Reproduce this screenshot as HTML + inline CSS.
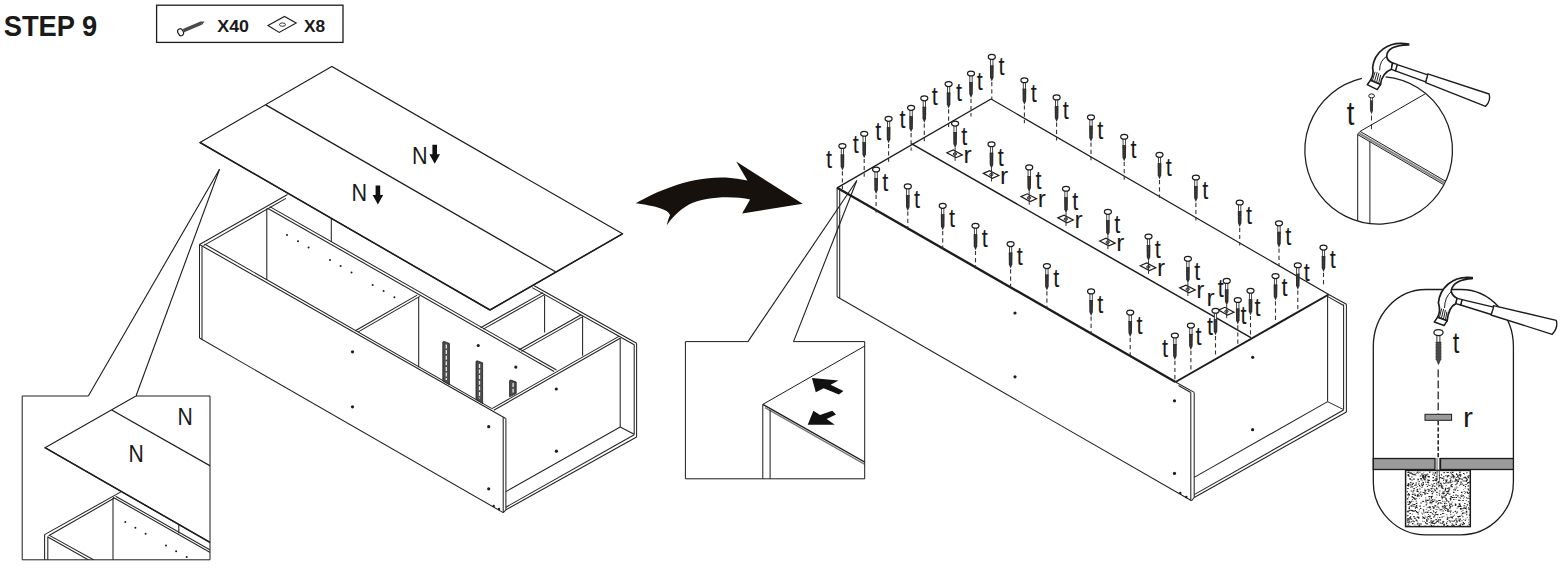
<!DOCTYPE html>
<html><head><meta charset="utf-8"><title>STEP 9</title>
<style>
html,body{margin:0;padding:0;background:#fff;}
body{width:1568px;height:570px;overflow:hidden;font-family:"Liberation Sans",sans-serif;}
svg{display:block;}
svg text{font-family:"Liberation Sans",sans-serif;}
</style></head><body>
<svg width="1568" height="570" viewBox="0 0 1568 570">
<rect width="1568" height="570" fill="#fff"/>
<text transform="translate(3.70 35.60) scale(0.942 1)" font-size="29" font-weight="bold" text-anchor="start" fill="#1a1a1a">STEP 9</text>
<rect x="156.6" y="5.2" width="186.4" height="37.2" fill="none" stroke="#1c1c1c" stroke-width="1.3"/>
<text transform="translate(217.30 32.25) scale(1.03 1)" font-size="17.3" font-weight="bold" text-anchor="start" fill="#1a1a1a">X40</text>
<text x="303.90" y="32.25" font-size="17.3" font-weight="bold" text-anchor="start" fill="#1a1a1a">X8</text>
<line x1="183.5" y1="30.7" x2="201.2" y2="23.1" stroke="#4a4a4a" stroke-width="3.5" />
<polygon points="200.3,21.6 204.6,21.6 201.9,24.9" fill="#4a4a4a"/>
<ellipse cx="180.6" cy="32.2" rx="2.7" ry="3.6" transform="rotate(-25 180.6 32.2)" fill="#fff" stroke="#1c1c1c" stroke-width="1.2"/>
<polygon points="268.0,25.5 284.5,16.5 296.2,23.0 279.2,32.4" stroke="#1c1c1c" stroke-width="1.1" fill="#fff" stroke-linejoin="miter" />
<ellipse cx="282.5" cy="24.6" rx="3" ry="1.7" fill="#fff" stroke="#1c1c1c" stroke-width="0.9"/>
<line x1="219.5" y1="169.3" x2="88.3" y2="396.0" stroke="#1c1c1c" stroke-width="1.1" />
<line x1="219.5" y1="169.3" x2="136.0" y2="396.0" stroke="#1c1c1c" stroke-width="1.1" />
<line x1="199.5" y1="244.5" x2="287.5" y2="194.5" stroke="#222" stroke-width="1.05" />
<line x1="203.5" y1="245.6" x2="286.0" y2="198.4" stroke="#222" stroke-width="1.05" />
<line x1="199.5" y1="244.5" x2="505.7" y2="418.5" stroke="#222" stroke-width="1.05" />
<line x1="204.5" y1="244.0" x2="491.5" y2="408.4" stroke="#222" stroke-width="1.05" />
<line x1="199.5" y1="244.5" x2="199.5" y2="338.0" stroke="#222" stroke-width="1.05" />
<line x1="202.0" y1="246.5" x2="202.0" y2="339.3" stroke="#222" stroke-width="1.05" />
<line x1="199.5" y1="338.0" x2="503.2" y2="512.6" stroke="#222" stroke-width="1.05" />
<line x1="503.2" y1="417.3" x2="503.2" y2="512.6" stroke="#222" stroke-width="1.05" />
<line x1="505.9" y1="418.5" x2="505.9" y2="509.8" stroke="#222" stroke-width="1.05" />
<line x1="503.2" y1="512.6" x2="505.9" y2="509.8" stroke="#222" stroke-width="1.05" />
<line x1="267.5" y1="208.2" x2="554.1" y2="371.5" stroke="#222" stroke-width="1.05" />
<line x1="269.8" y1="206.6" x2="556.5" y2="370.0" stroke="#222" stroke-width="1.05" />
<line x1="266.8" y1="208.5" x2="266.8" y2="280.0" stroke="#222" stroke-width="1.05" />
<line x1="331.3" y1="219.0" x2="331.3" y2="242.0" stroke="#222" stroke-width="1.05" />
<line x1="417.2" y1="295.1" x2="355.3" y2="330.8" stroke="#222" stroke-width="1.05" />
<line x1="419.8" y1="296.4" x2="357.9" y2="332.1" stroke="#222" stroke-width="1.05" />
<line x1="418.7" y1="297.0" x2="418.7" y2="367.2" stroke="#222" stroke-width="1.05" />
<line x1="534.2" y1="285.8" x2="636.6" y2="343.2" stroke="#222" stroke-width="1.05" />
<line x1="532.2" y1="287.6" x2="634.2" y2="344.8" stroke="#222" stroke-width="1.05" />
<line x1="480.6" y1="327.7" x2="543.0" y2="292.6" stroke="#222" stroke-width="1.05" />
<line x1="483.2" y1="329.1" x2="545.0" y2="294.4" stroke="#222" stroke-width="1.05" />
<line x1="544.6" y1="295.5" x2="544.6" y2="332.4" stroke="#222" stroke-width="1.05" />
<line x1="518.7" y1="350.0" x2="581.1" y2="314.7" stroke="#222" stroke-width="1.05" />
<line x1="521.3" y1="351.4" x2="583.2" y2="316.4" stroke="#222" stroke-width="1.05" />
<line x1="582.6" y1="317.0" x2="582.6" y2="355.7" stroke="#222" stroke-width="1.05" />
<line x1="491.5" y1="408.9" x2="619.3" y2="336.1" stroke="#222" stroke-width="1.05" />
<line x1="493.8" y1="410.3" x2="620.2" y2="338.3" stroke="#222" stroke-width="1.05" />
<line x1="620.2" y1="338.0" x2="620.2" y2="427.0" stroke="#222" stroke-width="1.05" />
<line x1="634.2" y1="344.5" x2="634.2" y2="434.5" stroke="#222" stroke-width="1.05" />
<line x1="636.6" y1="343.2" x2="636.6" y2="437.0" stroke="#222" stroke-width="1.05" />
<line x1="505.9" y1="491.6" x2="620.2" y2="427.0" stroke="#222" stroke-width="1.05" />
<line x1="620.2" y1="427.0" x2="634.2" y2="434.2" stroke="#222" stroke-width="1.05" />
<line x1="505.9" y1="509.8" x2="636.6" y2="437.0" stroke="#222" stroke-width="1.05" />
<line x1="505.9" y1="507.2" x2="634.2" y2="434.8" stroke="#222" stroke-width="1.05" />
<circle cx="352.5" cy="351.8" r="1.6" fill="#1c1c1c"/>
<circle cx="352.5" cy="406.8" r="1.6" fill="#1c1c1c"/>
<circle cx="488.7" cy="426.7" r="1.6" fill="#1c1c1c"/>
<circle cx="488.7" cy="488.8" r="1.6" fill="#1c1c1c"/>
<circle cx="556.3" cy="389.0" r="1.6" fill="#1c1c1c"/>
<circle cx="556.4" cy="451.2" r="1.6" fill="#1c1c1c"/>
<circle cx="478.2" cy="345.5" r="1.6" fill="#1c1c1c"/>
<circle cx="515.8" cy="367.1" r="1.6" fill="#1c1c1c"/>
<circle cx="493.7" cy="505.9" r="1.2" fill="#1c1c1c"/>
<circle cx="499.0" cy="509.0" r="1.2" fill="#1c1c1c"/>
<circle cx="287.0" cy="235.0" r="1.0" fill="#1c1c1c"/>
<circle cx="298.0" cy="241.3" r="1.0" fill="#1c1c1c"/>
<circle cx="308.6" cy="247.5" r="1.0" fill="#1c1c1c"/>
<circle cx="330.0" cy="260.0" r="1.0" fill="#1c1c1c"/>
<circle cx="340.6" cy="266.1" r="1.0" fill="#1c1c1c"/>
<circle cx="351.5" cy="272.4" r="1.0" fill="#1c1c1c"/>
<circle cx="372.6" cy="284.9" r="1.0" fill="#1c1c1c"/>
<circle cx="383.6" cy="291.1" r="1.0" fill="#1c1c1c"/>
<circle cx="394.4" cy="297.2" r="1.0" fill="#1c1c1c"/>
<polygon points="442.8,342.0 444.0,341.4 449.4,343.4 449.4,384.7 442.8,381.0" stroke="#1c1c1c" stroke-width="0.8" fill="#4c4c4c" stroke-linejoin="miter" />
<line x1="446.3" y1="344.5" x2="446.3" y2="380.0" stroke="#e8e8e8" stroke-width="1.3" stroke-dasharray="4 1.6"/>
<polygon points="476.0,361.4 477.2,360.8 482.6,362.8 482.6,403.4 476.0,399.5" stroke="#1c1c1c" stroke-width="0.8" fill="#4c4c4c" stroke-linejoin="miter" />
<line x1="479.5" y1="363.9" x2="479.5" y2="398.5" stroke="#e8e8e8" stroke-width="1.3" stroke-dasharray="4 1.6"/>
<polygon points="509.6,380.6 510.8,380.0 516.2,382.0 516.2,393.5 509.6,396.8" stroke="#1c1c1c" stroke-width="0.8" fill="#4c4c4c" stroke-linejoin="miter" />
<line x1="513.1" y1="383.1" x2="513.1" y2="392.5" stroke="#e8e8e8" stroke-width="1.3" stroke-dasharray="4 1.6"/>
<polygon points="331.8,66.4 200.0,142.5 490.0,310.0 622.5,233.8" stroke="#1c1c1c" stroke-width="1.15" fill="#fff" stroke-linejoin="miter" />
<line x1="265.8" y1="104.9" x2="555.5" y2="271.8" stroke="#1c1c1c" stroke-width="1.3" />
<line x1="200.0" y1="142.5" x2="490.0" y2="310.0" stroke="#1c1c1c" stroke-width="1.5" />
<line x1="490.0" y1="310.0" x2="622.5" y2="233.8" stroke="#1c1c1c" stroke-width="1.5" />
<text transform="translate(412.00 163.60) scale(0.9 1)" font-size="24" font-weight="normal" text-anchor="start" fill="#1a1a1a">N</text>
<text transform="translate(351.50 200.80) scale(0.9 1)" font-size="24" font-weight="normal" text-anchor="start" fill="#1a1a1a">N</text>
<polygon points="432.4,144.8 437.0,144.8 437.0,154.3 440.0,154.3 434.7,163.8 429.4,154.3 432.4,154.3" stroke="none" stroke-width="0" fill="#111" stroke-linejoin="miter" />
<polygon points="375.6,185.6 380.2,185.6 380.2,195.0 383.2,195.0 377.9,204.5 372.6,195.0 375.6,195.0" stroke="none" stroke-width="0" fill="#111" stroke-linejoin="miter" />
<clipPath id="c1"><rect x="22.2" y="396" width="187.8" height="163.8"/></clipPath>
<g clip-path="url(#c1)">
<line x1="44.6" y1="534.6" x2="120.9" y2="491.9" stroke="#222" stroke-width="1.05" />
<line x1="48.6" y1="535.8" x2="114.0" y2="498.3" stroke="#222" stroke-width="1.05" />
<line x1="44.6" y1="534.6" x2="44.6" y2="562.0" stroke="#222" stroke-width="1.05" />
<line x1="47.8" y1="536.5" x2="47.8" y2="562.0" stroke="#222" stroke-width="1.05" />
<line x1="47.8" y1="537.0" x2="92.2" y2="562.0" stroke="#222" stroke-width="1.05" />
<line x1="49.4" y1="535.4" x2="97.6" y2="562.0" stroke="#222" stroke-width="1.05" />
<line x1="113.0" y1="498.0" x2="113.0" y2="562.0" stroke="#222" stroke-width="1.05" />
<line x1="113.0" y1="497.2" x2="212.0" y2="553.6" stroke="#222" stroke-width="1.05" />
<line x1="115.6" y1="496.2" x2="212.0" y2="551.0" stroke="#222" stroke-width="1.05" />
<line x1="178.8" y1="525.0" x2="178.8" y2="533.4" stroke="#222" stroke-width="1.05" />
<circle cx="125.3" cy="521.9" r="1.0" fill="#1c1c1c"/>
<circle cx="135.4" cy="527.7" r="1.0" fill="#1c1c1c"/>
<circle cx="145.6" cy="533.7" r="1.0" fill="#1c1c1c"/>
<circle cx="166.0" cy="545.4" r="1.0" fill="#1c1c1c"/>
<circle cx="176.1" cy="551.2" r="1.0" fill="#1c1c1c"/>
<circle cx="186.7" cy="557.0" r="1.0" fill="#1c1c1c"/>
<polygon points="45.0,447.7 245.0,334.0 400.0,420.0 215.0,545.2" stroke="#1c1c1c" stroke-width="1.1" fill="#fff" stroke-linejoin="miter" />
<line x1="45.0" y1="447.7" x2="215.0" y2="545.2" stroke="#1c1c1c" stroke-width="1.5" />
<line x1="111.7" y1="410.0" x2="212.0" y2="466.9" stroke="#1c1c1c" stroke-width="1.3" />
</g>
<polyline points="88.3,396.0 22.2,396.0 22.2,559.8 210.0,559.8 210.0,396.0 136.0,396.0" stroke="#1c1c1c" stroke-width="1.0" fill="none" stroke-linejoin="miter" />
<text transform="translate(177.50 425.20) scale(0.9 1)" font-size="23.5" font-weight="normal" text-anchor="start" fill="#1a1a1a">N</text>
<text transform="translate(128.50 462.30) scale(0.9 1)" font-size="23.5" font-weight="normal" text-anchor="start" fill="#1a1a1a">N</text>
<path d="M635.8,203.3 C655,192 690,176 726,177.5 Q738,178.3 747.4,180.5 L736.2,161.6 L802.7,203.7 L742.1,213.6 L750.1,199.5 C735,196 705,196 689,204.5 C678,211 671,219 666.7,225.4 C668,220 669,217 670.1,215.3 C668,209 655,206 635.8,203.3 Z" fill="#17110e"/>
<line x1="856.8" y1="180.5" x2="747.9" y2="341.6" stroke="#1c1c1c" stroke-width="1.1" />
<line x1="856.8" y1="180.5" x2="793.5" y2="341.6" stroke="#1c1c1c" stroke-width="1.1" />
<line x1="991.0" y1="99.0" x2="837.1" y2="187.8" stroke="#1c1c1c" stroke-width="1.4" />
<line x1="991.0" y1="99.0" x2="1328.7" y2="294.5" stroke="#1c1c1c" stroke-width="1.15" />
<line x1="837.1" y1="187.8" x2="1175.5" y2="382.0" stroke="#1c1c1c" stroke-width="2.4" />
<line x1="1175.5" y1="382.0" x2="1328.7" y2="294.5" stroke="#1c1c1c" stroke-width="2.0" />
<line x1="911.3" y1="143.7" x2="1250.9" y2="337.7" stroke="#1c1c1c" stroke-width="1.5" />
<line x1="837.1" y1="187.8" x2="837.1" y2="296.8" stroke="#222" stroke-width="1.05" />
<line x1="839.7" y1="189.5" x2="839.7" y2="298.3" stroke="#222" stroke-width="1.05" />
<line x1="837.1" y1="296.8" x2="1191.6" y2="500.8" stroke="#222" stroke-width="1.05" />
<line x1="1175.5" y1="382.0" x2="1194.2" y2="392.4" stroke="#222" stroke-width="1.05" />
<line x1="1178.5" y1="385.5" x2="1190.8" y2="392.5" stroke="#222" stroke-width="1.05" />
<line x1="1190.8" y1="392.5" x2="1190.8" y2="500.3" stroke="#222" stroke-width="1.05" />
<line x1="1194.2" y1="392.4" x2="1194.2" y2="497.5" stroke="#222" stroke-width="1.05" />
<line x1="1191.6" y1="500.8" x2="1194.2" y2="497.5" stroke="#222" stroke-width="1.05" />
<line x1="1328.7" y1="294.5" x2="1346.4" y2="304.2" stroke="#222" stroke-width="1.05" />
<line x1="1327.8" y1="296.6" x2="1343.6" y2="305.5" stroke="#222" stroke-width="1.05" />
<line x1="1327.6" y1="295.0" x2="1327.6" y2="401.6" stroke="#222" stroke-width="1.05" />
<line x1="1343.6" y1="304.5" x2="1343.6" y2="409.6" stroke="#222" stroke-width="1.05" />
<line x1="1346.4" y1="304.2" x2="1346.4" y2="412.0" stroke="#222" stroke-width="1.05" />
<line x1="1194.2" y1="477.4" x2="1327.6" y2="401.6" stroke="#222" stroke-width="1.05" />
<line x1="1327.6" y1="401.6" x2="1343.6" y2="409.6" stroke="#222" stroke-width="1.05" />
<line x1="1194.2" y1="497.5" x2="1346.4" y2="412.0" stroke="#222" stroke-width="1.05" />
<line x1="1194.2" y1="494.6" x2="1343.6" y2="410.0" stroke="#222" stroke-width="1.05" />
<circle cx="1015.0" cy="313.0" r="1.6" fill="#1c1c1c"/>
<circle cx="1015.0" cy="376.8" r="1.6" fill="#1c1c1c"/>
<circle cx="1174.5" cy="400.8" r="1.6" fill="#1c1c1c"/>
<circle cx="1174.5" cy="473.4" r="1.6" fill="#1c1c1c"/>
<circle cx="1252.7" cy="357.3" r="1.6" fill="#1c1c1c"/>
<circle cx="1252.6" cy="429.7" r="1.6" fill="#1c1c1c"/>
<circle cx="1180.3" cy="492.9" r="1.2" fill="#1c1c1c"/>
<circle cx="1186.3" cy="497.0" r="1.2" fill="#1c1c1c"/>
<line x1="842.4" y1="171.2" x2="842.4" y2="189.0" stroke="#333" stroke-width="1.1" stroke-dasharray="4.2 3"/>
<rect x="841.25" y="148.00" width="2.3" height="7" fill="#fff" stroke="#1c1c1c" stroke-width="0.8"/>
<path d="M840.50,154.50 L844.30,154.50 L844.15,166.50 L842.40,170.50 L840.65,166.50 Z" fill="#2e2e2e"/>
<line x1="842.4" y1="155.5" x2="842.4" y2="166.0" stroke="#666" stroke-width="0.5" stroke-dasharray="1 1"/>
<ellipse cx="842.40" cy="146.00" rx="3.5" ry="2.45" fill="#fff" stroke="#1c1c1c" stroke-width="1.25"/>
<text transform="translate(825.92 167.50) scale(0.82 1)" font-size="26.5" font-weight="normal" text-anchor="start" fill="#1a1a1a">t</text>
<line x1="864.2" y1="158.9" x2="864.2" y2="176.7" stroke="#333" stroke-width="1.1" stroke-dasharray="4.2 3"/>
<rect x="863.05" y="135.70" width="2.3" height="7" fill="#fff" stroke="#1c1c1c" stroke-width="0.8"/>
<path d="M862.30,142.20 L866.10,142.20 L865.95,154.20 L864.20,158.20 L862.45,154.20 Z" fill="#2e2e2e"/>
<line x1="864.2" y1="143.2" x2="864.2" y2="153.7" stroke="#666" stroke-width="0.5" stroke-dasharray="1 1"/>
<ellipse cx="864.20" cy="133.70" rx="3.5" ry="2.45" fill="#fff" stroke="#1c1c1c" stroke-width="1.25"/>
<text transform="translate(852.72 152.60) scale(0.82 1)" font-size="26.5" font-weight="normal" text-anchor="start" fill="#1a1a1a">t</text>
<line x1="888.6" y1="144.0" x2="888.6" y2="161.8" stroke="#333" stroke-width="1.1" stroke-dasharray="4.2 3"/>
<rect x="887.45" y="120.80" width="2.3" height="7" fill="#fff" stroke="#1c1c1c" stroke-width="0.8"/>
<path d="M886.70,127.30 L890.50,127.30 L890.35,139.30 L888.60,143.30 L886.85,139.30 Z" fill="#2e2e2e"/>
<line x1="888.6" y1="128.3" x2="888.6" y2="138.8" stroke="#666" stroke-width="0.5" stroke-dasharray="1 1"/>
<ellipse cx="888.60" cy="118.80" rx="3.5" ry="2.45" fill="#fff" stroke="#1c1c1c" stroke-width="1.25"/>
<text transform="translate(875.32 140.20) scale(0.82 1)" font-size="26.5" font-weight="normal" text-anchor="start" fill="#1a1a1a">t</text>
<line x1="911.1" y1="133.0" x2="911.1" y2="150.8" stroke="#333" stroke-width="1.1" stroke-dasharray="4.2 3"/>
<rect x="909.95" y="109.80" width="2.3" height="7" fill="#fff" stroke="#1c1c1c" stroke-width="0.8"/>
<path d="M909.20,116.30 L913.00,116.30 L912.85,128.30 L911.10,132.30 L909.35,128.30 Z" fill="#2e2e2e"/>
<line x1="911.1" y1="117.3" x2="911.1" y2="127.8" stroke="#666" stroke-width="0.5" stroke-dasharray="1 1"/>
<ellipse cx="911.10" cy="107.80" rx="3.5" ry="2.45" fill="#fff" stroke="#1c1c1c" stroke-width="1.25"/>
<text transform="translate(899.42 128.30) scale(0.82 1)" font-size="26.5" font-weight="normal" text-anchor="start" fill="#1a1a1a">t</text>
<line x1="924.3" y1="123.5" x2="924.3" y2="141.3" stroke="#333" stroke-width="1.1" stroke-dasharray="4.2 3"/>
<rect x="923.15" y="100.30" width="2.3" height="7" fill="#fff" stroke="#1c1c1c" stroke-width="0.8"/>
<path d="M922.40,106.80 L926.20,106.80 L926.05,118.80 L924.30,122.80 L922.55,118.80 Z" fill="#2e2e2e"/>
<line x1="924.3" y1="107.8" x2="924.3" y2="118.3" stroke="#666" stroke-width="0.5" stroke-dasharray="1 1"/>
<ellipse cx="924.30" cy="98.30" rx="3.5" ry="2.45" fill="#fff" stroke="#1c1c1c" stroke-width="1.25"/>
<text transform="translate(931.67 105.40) scale(0.82 1)" font-size="26.5" font-weight="normal" text-anchor="start" fill="#1a1a1a">t</text>
<line x1="948.6" y1="109.3" x2="948.6" y2="127.1" stroke="#333" stroke-width="1.1" stroke-dasharray="4.2 3"/>
<rect x="947.45" y="86.10" width="2.3" height="7" fill="#fff" stroke="#1c1c1c" stroke-width="0.8"/>
<path d="M946.70,92.60 L950.50,92.60 L950.35,104.60 L948.60,108.60 L946.85,104.60 Z" fill="#2e2e2e"/>
<line x1="948.6" y1="93.6" x2="948.6" y2="104.1" stroke="#666" stroke-width="0.5" stroke-dasharray="1 1"/>
<ellipse cx="948.60" cy="84.10" rx="3.5" ry="2.45" fill="#fff" stroke="#1c1c1c" stroke-width="1.25"/>
<text transform="translate(956.07 100.80) scale(0.82 1)" font-size="26.5" font-weight="normal" text-anchor="start" fill="#1a1a1a">t</text>
<line x1="971.0" y1="98.7" x2="971.0" y2="116.5" stroke="#333" stroke-width="1.1" stroke-dasharray="4.2 3"/>
<rect x="969.85" y="75.50" width="2.3" height="7" fill="#fff" stroke="#1c1c1c" stroke-width="0.8"/>
<path d="M969.10,82.00 L972.90,82.00 L972.75,94.00 L971.00,98.00 L969.25,94.00 Z" fill="#2e2e2e"/>
<line x1="971.0" y1="83.0" x2="971.0" y2="93.5" stroke="#666" stroke-width="0.5" stroke-dasharray="1 1"/>
<ellipse cx="971.00" cy="73.50" rx="3.5" ry="2.45" fill="#fff" stroke="#1c1c1c" stroke-width="1.25"/>
<text transform="translate(976.87 90.30) scale(0.82 1)" font-size="26.5" font-weight="normal" text-anchor="start" fill="#1a1a1a">t</text>
<line x1="991.8" y1="82.1" x2="991.8" y2="99.9" stroke="#333" stroke-width="1.1" stroke-dasharray="4.2 3"/>
<rect x="990.65" y="58.90" width="2.3" height="7" fill="#fff" stroke="#1c1c1c" stroke-width="0.8"/>
<path d="M989.90,65.40 L993.70,65.40 L993.55,77.40 L991.80,81.40 L990.05,77.40 Z" fill="#2e2e2e"/>
<line x1="991.8" y1="66.4" x2="991.8" y2="76.9" stroke="#666" stroke-width="0.5" stroke-dasharray="1 1"/>
<ellipse cx="991.80" cy="56.90" rx="3.5" ry="2.45" fill="#fff" stroke="#1c1c1c" stroke-width="1.25"/>
<text transform="translate(998.47 75.40) scale(0.82 1)" font-size="26.5" font-weight="normal" text-anchor="start" fill="#1a1a1a">t</text>
<line x1="1024.4" y1="105.4" x2="1024.4" y2="123.2" stroke="#333" stroke-width="1.1" stroke-dasharray="4.2 3"/>
<rect x="1023.25" y="82.20" width="2.3" height="7" fill="#fff" stroke="#1c1c1c" stroke-width="0.8"/>
<path d="M1022.50,88.70 L1026.30,88.70 L1026.15,100.70 L1024.40,104.70 L1022.65,100.70 Z" fill="#2e2e2e"/>
<line x1="1024.4" y1="89.7" x2="1024.4" y2="100.2" stroke="#666" stroke-width="0.5" stroke-dasharray="1 1"/>
<ellipse cx="1024.40" cy="80.20" rx="3.5" ry="2.45" fill="#fff" stroke="#1c1c1c" stroke-width="1.25"/>
<text transform="translate(1030.67 101.50) scale(0.82 1)" font-size="26.5" font-weight="normal" text-anchor="start" fill="#1a1a1a">t</text>
<line x1="1056.6" y1="122.6" x2="1056.6" y2="140.4" stroke="#333" stroke-width="1.1" stroke-dasharray="4.2 3"/>
<rect x="1055.45" y="99.40" width="2.3" height="7" fill="#fff" stroke="#1c1c1c" stroke-width="0.8"/>
<path d="M1054.70,105.90 L1058.50,105.90 L1058.35,117.90 L1056.60,121.90 L1054.85,117.90 Z" fill="#2e2e2e"/>
<line x1="1056.6" y1="106.9" x2="1056.6" y2="117.4" stroke="#666" stroke-width="0.5" stroke-dasharray="1 1"/>
<ellipse cx="1056.60" cy="97.40" rx="3.5" ry="2.45" fill="#fff" stroke="#1c1c1c" stroke-width="1.25"/>
<text transform="translate(1062.87 118.70) scale(0.82 1)" font-size="26.5" font-weight="normal" text-anchor="start" fill="#1a1a1a">t</text>
<line x1="1091.0" y1="142.5" x2="1091.0" y2="160.3" stroke="#333" stroke-width="1.1" stroke-dasharray="4.2 3"/>
<rect x="1089.85" y="119.30" width="2.3" height="7" fill="#fff" stroke="#1c1c1c" stroke-width="0.8"/>
<path d="M1089.10,125.80 L1092.90,125.80 L1092.75,137.80 L1091.00,141.80 L1089.25,137.80 Z" fill="#2e2e2e"/>
<line x1="1091.0" y1="126.8" x2="1091.0" y2="137.3" stroke="#666" stroke-width="0.5" stroke-dasharray="1 1"/>
<ellipse cx="1091.00" cy="117.30" rx="3.5" ry="2.45" fill="#fff" stroke="#1c1c1c" stroke-width="1.25"/>
<text transform="translate(1097.27 138.60) scale(0.82 1)" font-size="26.5" font-weight="normal" text-anchor="start" fill="#1a1a1a">t</text>
<line x1="1124.2" y1="161.9" x2="1124.2" y2="179.7" stroke="#333" stroke-width="1.1" stroke-dasharray="4.2 3"/>
<rect x="1123.05" y="138.70" width="2.3" height="7" fill="#fff" stroke="#1c1c1c" stroke-width="0.8"/>
<path d="M1122.30,145.20 L1126.10,145.20 L1125.95,157.20 L1124.20,161.20 L1122.45,157.20 Z" fill="#2e2e2e"/>
<line x1="1124.2" y1="146.2" x2="1124.2" y2="156.7" stroke="#666" stroke-width="0.5" stroke-dasharray="1 1"/>
<ellipse cx="1124.20" cy="136.70" rx="3.5" ry="2.45" fill="#fff" stroke="#1c1c1c" stroke-width="1.25"/>
<text transform="translate(1130.47 158.00) scale(0.82 1)" font-size="26.5" font-weight="normal" text-anchor="start" fill="#1a1a1a">t</text>
<line x1="1159.5" y1="180.0" x2="1159.5" y2="197.8" stroke="#333" stroke-width="1.1" stroke-dasharray="4.2 3"/>
<rect x="1158.35" y="156.80" width="2.3" height="7" fill="#fff" stroke="#1c1c1c" stroke-width="0.8"/>
<path d="M1157.60,163.30 L1161.40,163.30 L1161.25,175.30 L1159.50,179.30 L1157.75,175.30 Z" fill="#2e2e2e"/>
<line x1="1159.5" y1="164.3" x2="1159.5" y2="174.8" stroke="#666" stroke-width="0.5" stroke-dasharray="1 1"/>
<ellipse cx="1159.50" cy="154.80" rx="3.5" ry="2.45" fill="#fff" stroke="#1c1c1c" stroke-width="1.25"/>
<text transform="translate(1165.77 176.10) scale(0.82 1)" font-size="26.5" font-weight="normal" text-anchor="start" fill="#1a1a1a">t</text>
<line x1="1195.9" y1="202.7" x2="1195.9" y2="220.5" stroke="#333" stroke-width="1.1" stroke-dasharray="4.2 3"/>
<rect x="1194.75" y="179.50" width="2.3" height="7" fill="#fff" stroke="#1c1c1c" stroke-width="0.8"/>
<path d="M1194.00,186.00 L1197.80,186.00 L1197.65,198.00 L1195.90,202.00 L1194.15,198.00 Z" fill="#2e2e2e"/>
<line x1="1195.9" y1="187.0" x2="1195.9" y2="197.5" stroke="#666" stroke-width="0.5" stroke-dasharray="1 1"/>
<ellipse cx="1195.90" cy="177.50" rx="3.5" ry="2.45" fill="#fff" stroke="#1c1c1c" stroke-width="1.25"/>
<text transform="translate(1202.17 198.80) scale(0.82 1)" font-size="26.5" font-weight="normal" text-anchor="start" fill="#1a1a1a">t</text>
<line x1="1239.7" y1="227.7" x2="1239.7" y2="245.5" stroke="#333" stroke-width="1.1" stroke-dasharray="4.2 3"/>
<rect x="1238.55" y="204.50" width="2.3" height="7" fill="#fff" stroke="#1c1c1c" stroke-width="0.8"/>
<path d="M1237.80,211.00 L1241.60,211.00 L1241.45,223.00 L1239.70,227.00 L1237.95,223.00 Z" fill="#2e2e2e"/>
<line x1="1239.7" y1="212.0" x2="1239.7" y2="222.5" stroke="#666" stroke-width="0.5" stroke-dasharray="1 1"/>
<ellipse cx="1239.70" cy="202.50" rx="3.5" ry="2.45" fill="#fff" stroke="#1c1c1c" stroke-width="1.25"/>
<text transform="translate(1245.97 223.80) scale(0.82 1)" font-size="26.5" font-weight="normal" text-anchor="start" fill="#1a1a1a">t</text>
<line x1="1279.0" y1="248.5" x2="1279.0" y2="266.3" stroke="#333" stroke-width="1.1" stroke-dasharray="4.2 3"/>
<rect x="1277.85" y="225.30" width="2.3" height="7" fill="#fff" stroke="#1c1c1c" stroke-width="0.8"/>
<path d="M1277.10,231.80 L1280.90,231.80 L1280.75,243.80 L1279.00,247.80 L1277.25,243.80 Z" fill="#2e2e2e"/>
<line x1="1279.0" y1="232.8" x2="1279.0" y2="243.3" stroke="#666" stroke-width="0.5" stroke-dasharray="1 1"/>
<ellipse cx="1279.00" cy="223.30" rx="3.5" ry="2.45" fill="#fff" stroke="#1c1c1c" stroke-width="1.25"/>
<text transform="translate(1285.27 244.60) scale(0.82 1)" font-size="26.5" font-weight="normal" text-anchor="start" fill="#1a1a1a">t</text>
<polygon points="946.9,152.8 953.2,150.0 962.4,154.9 956.0,157.7" stroke="#1c1c1c" stroke-width="1.2" fill="#fff" stroke-linejoin="miter" />
<ellipse cx="954.90" cy="154.00" rx="1.7" ry="1.25" fill="#aaa" stroke="#222" stroke-width="0.9"/>
<line x1="955.1" y1="147.6" x2="955.1" y2="160.9" stroke="#333" stroke-width="1.0" />
<rect x="953.95" y="125.60" width="2.3" height="7" fill="#fff" stroke="#1c1c1c" stroke-width="0.8"/>
<path d="M953.20,132.10 L957.00,132.10 L956.85,144.10 L955.10,148.10 L953.35,144.10 Z" fill="#2e2e2e"/>
<line x1="955.1" y1="133.1" x2="955.1" y2="143.6" stroke="#666" stroke-width="0.5" stroke-dasharray="1 1"/>
<ellipse cx="955.10" cy="123.60" rx="3.5" ry="2.45" fill="#fff" stroke="#1c1c1c" stroke-width="1.25"/>
<text transform="translate(961.37 144.90) scale(0.82 1)" font-size="26.5" font-weight="normal" text-anchor="start" fill="#1a1a1a">t</text>
<text x="963.57" y="163.00" font-size="24.5" font-weight="normal" text-anchor="start" fill="#1a1a1a">r</text>
<polygon points="983.3,173.4 989.6,170.6 998.8,175.5 992.4,178.3" stroke="#1c1c1c" stroke-width="1.2" fill="#fff" stroke-linejoin="miter" />
<ellipse cx="991.30" cy="174.60" rx="1.7" ry="1.25" fill="#aaa" stroke="#222" stroke-width="0.9"/>
<line x1="991.5" y1="168.2" x2="991.5" y2="181.5" stroke="#333" stroke-width="1.0" />
<rect x="990.35" y="146.20" width="2.3" height="7" fill="#fff" stroke="#1c1c1c" stroke-width="0.8"/>
<path d="M989.60,152.70 L993.40,152.70 L993.25,164.70 L991.50,168.70 L989.75,164.70 Z" fill="#2e2e2e"/>
<line x1="991.5" y1="153.7" x2="991.5" y2="164.2" stroke="#666" stroke-width="0.5" stroke-dasharray="1 1"/>
<ellipse cx="991.50" cy="144.20" rx="3.5" ry="2.45" fill="#fff" stroke="#1c1c1c" stroke-width="1.25"/>
<text transform="translate(997.77 165.50) scale(0.82 1)" font-size="26.5" font-weight="normal" text-anchor="start" fill="#1a1a1a">t</text>
<text x="999.97" y="183.60" font-size="24.5" font-weight="normal" text-anchor="start" fill="#1a1a1a">r</text>
<polygon points="1021.0,196.6 1027.3,193.8 1036.5,198.7 1030.1,201.5" stroke="#1c1c1c" stroke-width="1.2" fill="#fff" stroke-linejoin="miter" />
<ellipse cx="1029.00" cy="197.80" rx="1.7" ry="1.25" fill="#aaa" stroke="#222" stroke-width="0.9"/>
<line x1="1029.2" y1="191.4" x2="1029.2" y2="204.7" stroke="#333" stroke-width="1.0" />
<rect x="1028.05" y="169.40" width="2.3" height="7" fill="#fff" stroke="#1c1c1c" stroke-width="0.8"/>
<path d="M1027.30,175.90 L1031.10,175.90 L1030.95,187.90 L1029.20,191.90 L1027.45,187.90 Z" fill="#2e2e2e"/>
<line x1="1029.2" y1="176.9" x2="1029.2" y2="187.4" stroke="#666" stroke-width="0.5" stroke-dasharray="1 1"/>
<ellipse cx="1029.20" cy="167.40" rx="3.5" ry="2.45" fill="#fff" stroke="#1c1c1c" stroke-width="1.25"/>
<text transform="translate(1035.47 188.70) scale(0.82 1)" font-size="26.5" font-weight="normal" text-anchor="start" fill="#1a1a1a">t</text>
<text x="1037.67" y="206.80" font-size="24.5" font-weight="normal" text-anchor="start" fill="#1a1a1a">r</text>
<polygon points="1057.8,217.9 1064.1,215.1 1073.3,220.0 1066.9,222.8" stroke="#1c1c1c" stroke-width="1.2" fill="#fff" stroke-linejoin="miter" />
<ellipse cx="1065.80" cy="219.10" rx="1.7" ry="1.25" fill="#aaa" stroke="#222" stroke-width="0.9"/>
<line x1="1066.0" y1="212.7" x2="1066.0" y2="226.0" stroke="#333" stroke-width="1.0" />
<rect x="1064.85" y="190.70" width="2.3" height="7" fill="#fff" stroke="#1c1c1c" stroke-width="0.8"/>
<path d="M1064.10,197.20 L1067.90,197.20 L1067.75,209.20 L1066.00,213.20 L1064.25,209.20 Z" fill="#2e2e2e"/>
<line x1="1066.0" y1="198.2" x2="1066.0" y2="208.7" stroke="#666" stroke-width="0.5" stroke-dasharray="1 1"/>
<ellipse cx="1066.00" cy="188.70" rx="3.5" ry="2.45" fill="#fff" stroke="#1c1c1c" stroke-width="1.25"/>
<text transform="translate(1072.27 210.00) scale(0.82 1)" font-size="26.5" font-weight="normal" text-anchor="start" fill="#1a1a1a">t</text>
<text x="1074.47" y="228.10" font-size="24.5" font-weight="normal" text-anchor="start" fill="#1a1a1a">r</text>
<polygon points="1099.7,241.0 1106.0,238.2 1115.2,243.1 1108.8,245.9" stroke="#1c1c1c" stroke-width="1.2" fill="#fff" stroke-linejoin="miter" />
<ellipse cx="1107.70" cy="242.20" rx="1.7" ry="1.25" fill="#aaa" stroke="#222" stroke-width="0.9"/>
<line x1="1107.9" y1="235.8" x2="1107.9" y2="249.1" stroke="#333" stroke-width="1.0" />
<rect x="1106.75" y="213.80" width="2.3" height="7" fill="#fff" stroke="#1c1c1c" stroke-width="0.8"/>
<path d="M1106.00,220.30 L1109.80,220.30 L1109.65,232.30 L1107.90,236.30 L1106.15,232.30 Z" fill="#2e2e2e"/>
<line x1="1107.9" y1="221.3" x2="1107.9" y2="231.8" stroke="#666" stroke-width="0.5" stroke-dasharray="1 1"/>
<ellipse cx="1107.90" cy="211.80" rx="3.5" ry="2.45" fill="#fff" stroke="#1c1c1c" stroke-width="1.25"/>
<text transform="translate(1114.17 233.10) scale(0.82 1)" font-size="26.5" font-weight="normal" text-anchor="start" fill="#1a1a1a">t</text>
<text x="1116.37" y="251.20" font-size="24.5" font-weight="normal" text-anchor="start" fill="#1a1a1a">r</text>
<polygon points="1140.3,265.7 1146.6,262.9 1155.8,267.8 1149.4,270.6" stroke="#1c1c1c" stroke-width="1.2" fill="#fff" stroke-linejoin="miter" />
<ellipse cx="1148.30" cy="266.90" rx="1.7" ry="1.25" fill="#aaa" stroke="#222" stroke-width="0.9"/>
<line x1="1148.5" y1="260.5" x2="1148.5" y2="273.8" stroke="#333" stroke-width="1.0" />
<rect x="1147.35" y="238.50" width="2.3" height="7" fill="#fff" stroke="#1c1c1c" stroke-width="0.8"/>
<path d="M1146.60,245.00 L1150.40,245.00 L1150.25,257.00 L1148.50,261.00 L1146.75,257.00 Z" fill="#2e2e2e"/>
<line x1="1148.5" y1="246.0" x2="1148.5" y2="256.5" stroke="#666" stroke-width="0.5" stroke-dasharray="1 1"/>
<ellipse cx="1148.50" cy="236.50" rx="3.5" ry="2.45" fill="#fff" stroke="#1c1c1c" stroke-width="1.25"/>
<text transform="translate(1154.77 257.80) scale(0.82 1)" font-size="26.5" font-weight="normal" text-anchor="start" fill="#1a1a1a">t</text>
<text x="1156.97" y="275.90" font-size="24.5" font-weight="normal" text-anchor="start" fill="#1a1a1a">r</text>
<polygon points="1179.7,287.9 1186.0,285.1 1195.2,290.0 1188.8,292.8" stroke="#1c1c1c" stroke-width="1.2" fill="#fff" stroke-linejoin="miter" />
<ellipse cx="1187.70" cy="289.10" rx="1.7" ry="1.25" fill="#aaa" stroke="#222" stroke-width="0.9"/>
<line x1="1187.9" y1="282.7" x2="1187.9" y2="296.0" stroke="#333" stroke-width="1.0" />
<rect x="1186.75" y="260.70" width="2.3" height="7" fill="#fff" stroke="#1c1c1c" stroke-width="0.8"/>
<path d="M1186.00,267.20 L1189.80,267.20 L1189.65,279.20 L1187.90,283.20 L1186.15,279.20 Z" fill="#2e2e2e"/>
<line x1="1187.9" y1="268.2" x2="1187.9" y2="278.7" stroke="#666" stroke-width="0.5" stroke-dasharray="1 1"/>
<ellipse cx="1187.90" cy="258.70" rx="3.5" ry="2.45" fill="#fff" stroke="#1c1c1c" stroke-width="1.25"/>
<text transform="translate(1194.17 280.00) scale(0.82 1)" font-size="26.5" font-weight="normal" text-anchor="start" fill="#1a1a1a">t</text>
<text x="1196.37" y="298.10" font-size="24.5" font-weight="normal" text-anchor="start" fill="#1a1a1a">r</text>
<polygon points="1218.5,310.1 1224.8,307.3 1234.0,312.2 1227.6,315.0" stroke="#1c1c1c" stroke-width="1.2" fill="#fff" stroke-linejoin="miter" />
<ellipse cx="1226.50" cy="311.30" rx="1.7" ry="1.25" fill="#aaa" stroke="#222" stroke-width="0.9"/>
<line x1="1226.7" y1="304.9" x2="1226.7" y2="318.2" stroke="#333" stroke-width="1.0" />
<rect x="1225.55" y="282.90" width="2.3" height="7" fill="#fff" stroke="#1c1c1c" stroke-width="0.8"/>
<path d="M1224.80,289.40 L1228.60,289.40 L1228.45,301.40 L1226.70,305.40 L1224.95,301.40 Z" fill="#2e2e2e"/>
<line x1="1226.7" y1="290.4" x2="1226.7" y2="300.9" stroke="#666" stroke-width="0.5" stroke-dasharray="1 1"/>
<ellipse cx="1226.70" cy="280.90" rx="3.5" ry="2.45" fill="#fff" stroke="#1c1c1c" stroke-width="1.25"/>
<text transform="translate(1217.82 296.80) scale(0.82 1)" font-size="26.5" font-weight="normal" text-anchor="start" fill="#1a1a1a">t</text>
<text x="1206.55" y="306.20" font-size="24.5" font-weight="normal" text-anchor="start" fill="#1a1a1a">r</text>
<line x1="876.1" y1="194.7" x2="876.1" y2="212.5" stroke="#333" stroke-width="1.1" stroke-dasharray="4.2 3"/>
<rect x="874.95" y="171.50" width="2.3" height="7" fill="#fff" stroke="#1c1c1c" stroke-width="0.8"/>
<path d="M874.20,178.00 L878.00,178.00 L877.85,190.00 L876.10,194.00 L874.35,190.00 Z" fill="#2e2e2e"/>
<line x1="876.1" y1="179.0" x2="876.1" y2="189.5" stroke="#666" stroke-width="0.5" stroke-dasharray="1 1"/>
<ellipse cx="876.10" cy="169.50" rx="3.5" ry="2.45" fill="#fff" stroke="#1c1c1c" stroke-width="1.25"/>
<text transform="translate(882.37 190.80) scale(0.82 1)" font-size="26.5" font-weight="normal" text-anchor="start" fill="#1a1a1a">t</text>
<line x1="907.8" y1="211.6" x2="907.8" y2="229.4" stroke="#333" stroke-width="1.1" stroke-dasharray="4.2 3"/>
<rect x="906.65" y="188.40" width="2.3" height="7" fill="#fff" stroke="#1c1c1c" stroke-width="0.8"/>
<path d="M905.90,194.90 L909.70,194.90 L909.55,206.90 L907.80,210.90 L906.05,206.90 Z" fill="#2e2e2e"/>
<line x1="907.8" y1="195.9" x2="907.8" y2="206.4" stroke="#666" stroke-width="0.5" stroke-dasharray="1 1"/>
<ellipse cx="907.80" cy="186.40" rx="3.5" ry="2.45" fill="#fff" stroke="#1c1c1c" stroke-width="1.25"/>
<text transform="translate(914.07 207.70) scale(0.82 1)" font-size="26.5" font-weight="normal" text-anchor="start" fill="#1a1a1a">t</text>
<line x1="942.7" y1="231.0" x2="942.7" y2="248.8" stroke="#333" stroke-width="1.1" stroke-dasharray="4.2 3"/>
<rect x="941.55" y="207.80" width="2.3" height="7" fill="#fff" stroke="#1c1c1c" stroke-width="0.8"/>
<path d="M940.80,214.30 L944.60,214.30 L944.45,226.30 L942.70,230.30 L940.95,226.30 Z" fill="#2e2e2e"/>
<line x1="942.7" y1="215.3" x2="942.7" y2="225.8" stroke="#666" stroke-width="0.5" stroke-dasharray="1 1"/>
<ellipse cx="942.70" cy="205.80" rx="3.5" ry="2.45" fill="#fff" stroke="#1c1c1c" stroke-width="1.25"/>
<text transform="translate(948.97 227.10) scale(0.82 1)" font-size="26.5" font-weight="normal" text-anchor="start" fill="#1a1a1a">t</text>
<line x1="975.5" y1="250.9" x2="975.5" y2="268.7" stroke="#333" stroke-width="1.1" stroke-dasharray="4.2 3"/>
<rect x="974.35" y="227.70" width="2.3" height="7" fill="#fff" stroke="#1c1c1c" stroke-width="0.8"/>
<path d="M973.60,234.20 L977.40,234.20 L977.25,246.20 L975.50,250.20 L973.75,246.20 Z" fill="#2e2e2e"/>
<line x1="975.5" y1="235.2" x2="975.5" y2="245.7" stroke="#666" stroke-width="0.5" stroke-dasharray="1 1"/>
<ellipse cx="975.50" cy="225.70" rx="3.5" ry="2.45" fill="#fff" stroke="#1c1c1c" stroke-width="1.25"/>
<text transform="translate(981.77 247.00) scale(0.82 1)" font-size="26.5" font-weight="normal" text-anchor="start" fill="#1a1a1a">t</text>
<line x1="1010.6" y1="269.3" x2="1010.6" y2="287.1" stroke="#333" stroke-width="1.1" stroke-dasharray="4.2 3"/>
<rect x="1009.45" y="246.10" width="2.3" height="7" fill="#fff" stroke="#1c1c1c" stroke-width="0.8"/>
<path d="M1008.70,252.60 L1012.50,252.60 L1012.35,264.60 L1010.60,268.60 L1008.85,264.60 Z" fill="#2e2e2e"/>
<line x1="1010.6" y1="253.6" x2="1010.6" y2="264.1" stroke="#666" stroke-width="0.5" stroke-dasharray="1 1"/>
<ellipse cx="1010.60" cy="244.10" rx="3.5" ry="2.45" fill="#fff" stroke="#1c1c1c" stroke-width="1.25"/>
<text transform="translate(1016.87 265.40) scale(0.82 1)" font-size="26.5" font-weight="normal" text-anchor="start" fill="#1a1a1a">t</text>
<line x1="1046.9" y1="291.3" x2="1046.9" y2="309.1" stroke="#333" stroke-width="1.1" stroke-dasharray="4.2 3"/>
<rect x="1045.75" y="268.10" width="2.3" height="7" fill="#fff" stroke="#1c1c1c" stroke-width="0.8"/>
<path d="M1045.00,274.60 L1048.80,274.60 L1048.65,286.60 L1046.90,290.60 L1045.15,286.60 Z" fill="#2e2e2e"/>
<line x1="1046.9" y1="275.6" x2="1046.9" y2="286.1" stroke="#666" stroke-width="0.5" stroke-dasharray="1 1"/>
<ellipse cx="1046.90" cy="266.10" rx="3.5" ry="2.45" fill="#fff" stroke="#1c1c1c" stroke-width="1.25"/>
<text transform="translate(1053.17 287.40) scale(0.82 1)" font-size="26.5" font-weight="normal" text-anchor="start" fill="#1a1a1a">t</text>
<line x1="1091.1" y1="316.6" x2="1091.1" y2="334.4" stroke="#333" stroke-width="1.1" stroke-dasharray="4.2 3"/>
<rect x="1089.95" y="293.40" width="2.3" height="7" fill="#fff" stroke="#1c1c1c" stroke-width="0.8"/>
<path d="M1089.20,299.90 L1093.00,299.90 L1092.85,311.90 L1091.10,315.90 L1089.35,311.90 Z" fill="#2e2e2e"/>
<line x1="1091.1" y1="300.9" x2="1091.1" y2="311.4" stroke="#666" stroke-width="0.5" stroke-dasharray="1 1"/>
<ellipse cx="1091.10" cy="291.40" rx="3.5" ry="2.45" fill="#fff" stroke="#1c1c1c" stroke-width="1.25"/>
<text transform="translate(1097.37 312.70) scale(0.82 1)" font-size="26.5" font-weight="normal" text-anchor="start" fill="#1a1a1a">t</text>
<line x1="1130.2" y1="337.8" x2="1130.2" y2="355.6" stroke="#333" stroke-width="1.1" stroke-dasharray="4.2 3"/>
<rect x="1129.05" y="314.60" width="2.3" height="7" fill="#fff" stroke="#1c1c1c" stroke-width="0.8"/>
<path d="M1128.30,321.10 L1132.10,321.10 L1131.95,333.10 L1130.20,337.10 L1128.45,333.10 Z" fill="#2e2e2e"/>
<line x1="1130.2" y1="322.1" x2="1130.2" y2="332.6" stroke="#666" stroke-width="0.5" stroke-dasharray="1 1"/>
<ellipse cx="1130.20" cy="312.60" rx="3.5" ry="2.45" fill="#fff" stroke="#1c1c1c" stroke-width="1.25"/>
<text transform="translate(1136.47 333.90) scale(0.82 1)" font-size="26.5" font-weight="normal" text-anchor="start" fill="#1a1a1a">t</text>
<line x1="1323.5" y1="272.8" x2="1323.5" y2="285.6" stroke="#333" stroke-width="1.1" stroke-dasharray="4.2 3"/>
<rect x="1322.35" y="249.60" width="2.3" height="7" fill="#fff" stroke="#1c1c1c" stroke-width="0.8"/>
<path d="M1321.60,256.10 L1325.40,256.10 L1325.25,268.10 L1323.50,272.10 L1321.75,268.10 Z" fill="#2e2e2e"/>
<line x1="1323.5" y1="257.1" x2="1323.5" y2="267.6" stroke="#666" stroke-width="0.5" stroke-dasharray="1 1"/>
<ellipse cx="1323.50" cy="247.60" rx="3.5" ry="2.45" fill="#fff" stroke="#1c1c1c" stroke-width="1.25"/>
<text transform="translate(1329.87 268.30) scale(0.82 1)" font-size="26.5" font-weight="normal" text-anchor="start" fill="#1a1a1a">t</text>
<line x1="1297.8" y1="290.5" x2="1297.8" y2="310.3" stroke="#333" stroke-width="1.1" stroke-dasharray="4.2 3"/>
<rect x="1296.65" y="267.30" width="2.3" height="7" fill="#fff" stroke="#1c1c1c" stroke-width="0.8"/>
<path d="M1295.90,273.80 L1299.70,273.80 L1299.55,285.80 L1297.80,289.80 L1296.05,285.80 Z" fill="#2e2e2e"/>
<line x1="1297.8" y1="274.8" x2="1297.8" y2="285.3" stroke="#666" stroke-width="0.5" stroke-dasharray="1 1"/>
<ellipse cx="1297.80" cy="265.30" rx="3.5" ry="2.45" fill="#fff" stroke="#1c1c1c" stroke-width="1.25"/>
<text transform="translate(1303.87 281.00) scale(0.82 1)" font-size="26.5" font-weight="normal" text-anchor="start" fill="#1a1a1a">t</text>
<line x1="1275.5" y1="301.3" x2="1275.5" y2="321.1" stroke="#333" stroke-width="1.1" stroke-dasharray="4.2 3"/>
<rect x="1274.35" y="278.10" width="2.3" height="7" fill="#fff" stroke="#1c1c1c" stroke-width="0.8"/>
<path d="M1273.60,284.60 L1277.40,284.60 L1277.25,296.60 L1275.50,300.60 L1273.75,296.60 Z" fill="#2e2e2e"/>
<line x1="1275.5" y1="285.6" x2="1275.5" y2="296.1" stroke="#666" stroke-width="0.5" stroke-dasharray="1 1"/>
<ellipse cx="1275.50" cy="276.10" rx="3.5" ry="2.45" fill="#fff" stroke="#1c1c1c" stroke-width="1.25"/>
<text transform="translate(1281.47 295.90) scale(0.82 1)" font-size="26.5" font-weight="normal" text-anchor="start" fill="#1a1a1a">t</text>
<line x1="1250.5" y1="315.9" x2="1250.5" y2="335.7" stroke="#333" stroke-width="1.1" stroke-dasharray="4.2 3"/>
<rect x="1249.35" y="292.70" width="2.3" height="7" fill="#fff" stroke="#1c1c1c" stroke-width="0.8"/>
<path d="M1248.60,299.20 L1252.40,299.20 L1252.25,311.20 L1250.50,315.20 L1248.75,311.20 Z" fill="#2e2e2e"/>
<line x1="1250.5" y1="300.2" x2="1250.5" y2="310.7" stroke="#666" stroke-width="0.5" stroke-dasharray="1 1"/>
<ellipse cx="1250.50" cy="290.70" rx="3.5" ry="2.45" fill="#fff" stroke="#1c1c1c" stroke-width="1.25"/>
<text transform="translate(1254.47 316.30) scale(0.82 1)" font-size="26.5" font-weight="normal" text-anchor="start" fill="#1a1a1a">t</text>
<line x1="1237.8" y1="325.2" x2="1237.8" y2="345.0" stroke="#333" stroke-width="1.1" stroke-dasharray="4.2 3"/>
<rect x="1236.65" y="302.00" width="2.3" height="7" fill="#fff" stroke="#1c1c1c" stroke-width="0.8"/>
<path d="M1235.90,308.50 L1239.70,308.50 L1239.55,320.50 L1237.80,324.50 L1236.05,320.50 Z" fill="#2e2e2e"/>
<line x1="1237.8" y1="309.5" x2="1237.8" y2="320.0" stroke="#666" stroke-width="0.5" stroke-dasharray="1 1"/>
<ellipse cx="1237.80" cy="300.00" rx="3.5" ry="2.45" fill="#fff" stroke="#1c1c1c" stroke-width="1.25"/>
<text transform="translate(1240.47 323.80) scale(0.82 1)" font-size="26.5" font-weight="normal" text-anchor="start" fill="#1a1a1a">t</text>
<line x1="1215.5" y1="336.0" x2="1215.5" y2="355.8" stroke="#333" stroke-width="1.1" stroke-dasharray="4.2 3"/>
<rect x="1214.35" y="312.80" width="2.3" height="7" fill="#fff" stroke="#1c1c1c" stroke-width="0.8"/>
<path d="M1213.60,319.30 L1217.40,319.30 L1217.25,331.30 L1215.50,335.30 L1213.75,331.30 Z" fill="#2e2e2e"/>
<line x1="1215.5" y1="320.3" x2="1215.5" y2="330.8" stroke="#666" stroke-width="0.5" stroke-dasharray="1 1"/>
<ellipse cx="1215.50" cy="310.80" rx="3.5" ry="2.45" fill="#fff" stroke="#1c1c1c" stroke-width="1.25"/>
<text transform="translate(1207.02 335.40) scale(0.82 1)" font-size="26.5" font-weight="normal" text-anchor="start" fill="#1a1a1a">t</text>
<line x1="1190.9" y1="350.8" x2="1190.9" y2="370.6" stroke="#333" stroke-width="1.1" stroke-dasharray="4.2 3"/>
<rect x="1189.75" y="327.60" width="2.3" height="7" fill="#fff" stroke="#1c1c1c" stroke-width="0.8"/>
<path d="M1189.00,334.10 L1192.80,334.10 L1192.65,346.10 L1190.90,350.10 L1189.15,346.10 Z" fill="#2e2e2e"/>
<line x1="1190.9" y1="335.1" x2="1190.9" y2="345.6" stroke="#666" stroke-width="0.5" stroke-dasharray="1 1"/>
<ellipse cx="1190.90" cy="325.60" rx="3.5" ry="2.45" fill="#fff" stroke="#1c1c1c" stroke-width="1.25"/>
<text transform="translate(1195.47 345.00) scale(0.82 1)" font-size="26.5" font-weight="normal" text-anchor="start" fill="#1a1a1a">t</text>
<line x1="1174.9" y1="360.7" x2="1174.9" y2="380.5" stroke="#333" stroke-width="1.1" stroke-dasharray="4.2 3"/>
<rect x="1173.75" y="337.50" width="2.3" height="7" fill="#fff" stroke="#1c1c1c" stroke-width="0.8"/>
<path d="M1173.00,344.00 L1176.80,344.00 L1176.65,356.00 L1174.90,360.00 L1173.15,356.00 Z" fill="#2e2e2e"/>
<line x1="1174.9" y1="345.0" x2="1174.9" y2="355.5" stroke="#666" stroke-width="0.5" stroke-dasharray="1 1"/>
<ellipse cx="1174.90" cy="335.50" rx="3.5" ry="2.45" fill="#fff" stroke="#1c1c1c" stroke-width="1.25"/>
<text transform="translate(1161.92 356.80) scale(0.82 1)" font-size="26.5" font-weight="normal" text-anchor="start" fill="#1a1a1a">t</text>
<clipPath id="c2"><rect x="685.4" y="341.6" width="179.3" height="137.2"/></clipPath>
<g clip-path="url(#c2)">
<line x1="762.8" y1="404.4" x2="866.0" y2="345.3" stroke="#1c1c1c" stroke-width="1.0" />
<line x1="762.8" y1="404.4" x2="866.0" y2="462.8" stroke="#1c1c1c" stroke-width="1.3" />
<line x1="765.0" y1="407.6" x2="866.0" y2="465.0" stroke="#777" stroke-width="1.3" />
<line x1="762.8" y1="404.4" x2="762.8" y2="480.0" stroke="#1c1c1c" stroke-width="1.0" />
<line x1="770.1" y1="409.8" x2="770.1" y2="480.0" stroke="#1c1c1c" stroke-width="1.0" />
</g>
<polyline points="747.9,341.6 685.4,341.6 685.4,478.8 864.7,478.8 864.7,341.6 793.5,341.6" stroke="#1c1c1c" stroke-width="1.0" fill="none" stroke-linejoin="miter" />
<polygon points="811.9,378.1 838.5,380.5 830.6,384.7 843.4,390.9 838.9,394.5 823.7,388.2 815.8,392.3" stroke="none" stroke-width="0" fill="#111" stroke-linejoin="miter" />
<polygon points="807.7,424.8 813.4,410.8 820.0,414.9 832.3,410.8 836.0,414.4 826.7,419.1 834.8,424.8" stroke="none" stroke-width="0" fill="#111" stroke-linejoin="miter" />
<clipPath id="c3"><circle cx="1378.3" cy="150.2" r="73.6"/></clipPath>
<path d="M1361.9,78.4 A73.8,73.8 0 1 0 1385.6,76.8" fill="none" stroke="#1c1c1c" stroke-width="1.25"/>
<g clip-path="url(#c3)">
<line x1="1360.1" y1="131.4" x2="1428.0" y2="92.2" stroke="#1c1c1c" stroke-width="1.0" />
<line x1="1357.7" y1="134.2" x2="1360.1" y2="131.4" stroke="#1c1c1c" stroke-width="1.0" />
<line x1="1360.1" y1="131.4" x2="1450.0" y2="183.8" stroke="#1c1c1c" stroke-width="1.0" />
<line x1="1358.8" y1="133.2" x2="1450.0" y2="186.2" stroke="#888" stroke-width="2.0" />
<line x1="1357.7" y1="134.6" x2="1450.0" y2="188.3" stroke="#1c1c1c" stroke-width="1.0" />
<line x1="1357.7" y1="134.2" x2="1357.7" y2="226.0" stroke="#1c1c1c" stroke-width="1.0" />
<line x1="1369.9" y1="141.6" x2="1369.9" y2="226.0" stroke="#1c1c1c" stroke-width="1.0" />
</g>
<line x1="1371.5" y1="115.5" x2="1371.5" y2="131.0" stroke="#333" stroke-width="1.0" stroke-dasharray="5 3.5"/>
<rect x="1370.5" y="97.5" width="2" height="3.5" fill="#fff" stroke="#1c1c1c" stroke-width="0.7"/>
<path d="M1369.9,100.5 L1373.1,100.5 L1373.0,110.8 L1371.5,114.2 L1370.0,110.8 Z" fill="#3a3a3a"/>
<ellipse cx="1371.6" cy="95.9" rx="2.9" ry="2.0" fill="#fff" stroke="#1c1c1c" stroke-width="1.0"/>
<text transform="translate(1346.69 124.80) scale(0.82 1)" font-size="33.5" font-weight="normal" text-anchor="start" fill="#1a1a1a">t</text>
<path d="M 1427.7,73.9 L 1489.1,94.0 Q 1491.2,100.5 1485.6,106.3 L 1425.6,82.6 Z" fill="#fff" stroke="#1c1c1c" stroke-width="1.35" stroke-linejoin="round"/>
<path d="M 1397.2,64.6 L 1427.7,74.9 L 1425.6,81.9 L 1395.4,70.9 Z" fill="#fff" stroke="#1c1c1c" stroke-width="1.35" stroke-linejoin="round"/>
<path d="M 1370.5,80.2 C 1373.0,76.0 1373.7,72.1 1372.6,67.5 C 1374.2,52.8 1387.4,40.2 1408.6,44.0 L 1408.6,44.9 C 1397.9,45.1 1387.0,47.5 1386.7,56.3 C 1387.0,59.5 1389.5,61.6 1392.6,63.0 L 1391.4,69.3 C 1386.0,71.4 1381.4,76.7 1380.5,84.6 Z" fill="#fff" stroke="#1c1c1c" stroke-width="1.7" stroke-linejoin="round"/>
<path d="M 1392.6,63.0 L 1397.2,64.4 L 1395.4,70.9 L 1391.4,69.3 Z" fill="#fff" stroke="#1c1c1c" stroke-width="1.35" stroke-linejoin="round"/>
<path d="M 1367.2,84.7 L 1370.5,80.2 L 1380.5,84.6 L 1377.2,89.6 Z" fill="#fff" stroke="#1c1c1c" stroke-width="1.5" stroke-linejoin="round"/>
<path d="M 1379.6,70.4 Q 1379.6,60.2 1387.0,56.3" fill="none" stroke="#1c1c1c" stroke-width="1.0" stroke-linejoin="round"/>
<line x1="1372.3" y1="80.9" x2="1375.1" y2="71.8" stroke="#222" stroke-width="1.0" />
<line x1="1374.4" y1="81.8" x2="1377.2" y2="72.1" stroke="#222" stroke-width="1.0" />
<line x1="1376.5" y1="82.6" x2="1378.9" y2="73.2" stroke="#222" stroke-width="1.0" />
<line x1="1378.6" y1="83.5" x2="1380.7" y2="74.9" stroke="#222" stroke-width="1.0" />
<path d="M1373.3,346.5 A52.5,57 0 0 1 1425.8,289.5 L1461,289.5 A52.5,57 0 0 1 1513.4,346.5 L1513.4,482 A52.5,52.8 0 0 1 1461,534.8 L1425.8,534.8 A52.5,52.8 0 0 1 1373.3,482 Z" fill="#fff" stroke="#1c1c1c" stroke-width="1.3"/>
<rect x="1405.6" y="470.4" width="64.7" height="56.2" fill="#fff" stroke="#1c1c1c" stroke-width="1.5"/>
<path d="M1426.9,479.7h0.9v0.7h-0.9zM1411.1,500.7h1.3v1.0h-1.3zM1443.2,521.1h1.1v0.9h-1.1zM1408.9,495.1h0.9v0.7h-0.9zM1421.7,501.5h0.9v0.7h-0.9zM1458.6,478.2h1.1v0.9h-1.1zM1446.2,503.3h0.9v0.7h-0.9zM1442.9,493.1h1.1v0.9h-1.1zM1409.4,518.3h1.3v1.0h-1.3zM1432.9,501.0h1.3v1.0h-1.3zM1441.8,508.7h0.9v0.7h-0.9zM1443.1,506.3h1.3v1.0h-1.3zM1412.6,510.3h0.9v0.7h-0.9zM1445.5,498.6h1.5v1.2h-1.5zM1455.5,496.9h1.5v1.2h-1.5zM1429.3,485.0h1.1v0.9h-1.1zM1450.5,484.8h1.3v1.0h-1.3zM1439.6,519.2h1.5v1.2h-1.5zM1424.6,524.9h0.9v0.7h-0.9zM1438.8,480.5h1.3v1.0h-1.3zM1416.1,498.1h0.9v0.7h-0.9zM1467.1,475.7h1.3v1.0h-1.3zM1427.9,490.6h1.5v1.2h-1.5zM1443.0,496.4h0.9v0.7h-0.9zM1466.0,497.3h0.9v0.7h-0.9zM1410.3,509.7h1.5v1.2h-1.5zM1424.4,492.5h1.3v1.0h-1.3zM1407.9,496.7h1.1v0.9h-1.1zM1445.0,498.4h1.1v0.9h-1.1zM1454.9,478.5h1.1v0.9h-1.1zM1431.6,521.5h1.5v1.2h-1.5zM1411.6,496.0h1.3v1.0h-1.3zM1462.2,516.2h1.3v1.0h-1.3zM1451.0,525.3h1.5v1.2h-1.5zM1466.8,479.7h1.1v0.9h-1.1zM1416.0,507.4h0.9v0.7h-0.9zM1437.1,503.6h1.3v1.0h-1.3zM1424.3,479.4h1.3v1.0h-1.3zM1444.9,488.9h1.1v0.9h-1.1zM1450.0,499.6h0.9v0.7h-0.9zM1435.3,519.0h1.5v1.2h-1.5zM1431.6,493.0h1.5v1.2h-1.5zM1446.5,474.9h0.9v0.7h-0.9zM1468.5,495.5h0.9v0.7h-0.9zM1427.9,474.4h0.9v0.7h-0.9zM1442.2,500.7h1.3v1.0h-1.3zM1445.2,475.3h1.1v0.9h-1.1zM1445.2,479.6h1.3v1.0h-1.3zM1466.7,504.3h1.5v1.2h-1.5zM1414.2,517.8h1.5v1.2h-1.5zM1436.8,488.5h1.1v0.9h-1.1zM1412.9,490.2h1.3v1.0h-1.3zM1436.7,509.2h0.9v0.7h-0.9zM1419.4,523.4h1.3v1.0h-1.3zM1415.7,501.1h0.9v0.7h-0.9zM1454.3,487.7h0.9v0.7h-0.9zM1450.4,485.7h1.3v1.0h-1.3zM1463.7,490.9h1.1v0.9h-1.1zM1440.1,514.0h1.3v1.0h-1.3zM1446.6,504.9h1.1v0.9h-1.1zM1457.3,516.1h1.1v0.9h-1.1zM1419.1,498.4h0.9v0.7h-0.9zM1468.8,514.6h1.5v1.2h-1.5zM1422.8,509.2h1.3v1.0h-1.3zM1434.7,522.6h1.3v1.0h-1.3zM1466.7,491.4h1.1v0.9h-1.1zM1412.9,497.1h1.3v1.0h-1.3zM1419.4,505.5h0.9v0.7h-0.9zM1436.7,507.1h0.9v0.7h-0.9zM1459.1,478.0h1.5v1.2h-1.5zM1455.8,512.4h1.5v1.2h-1.5zM1462.5,495.1h1.3v1.0h-1.3zM1412.0,523.1h1.5v1.2h-1.5zM1435.7,512.0h0.9v0.7h-0.9zM1452.2,480.8h1.1v0.9h-1.1zM1408.2,503.7h1.5v1.2h-1.5zM1457.3,479.5h1.5v1.2h-1.5zM1447.9,490.6h1.1v0.9h-1.1zM1407.8,515.1h0.9v0.7h-0.9zM1439.7,522.4h1.5v1.2h-1.5zM1468.7,482.1h1.1v0.9h-1.1zM1408.3,483.1h1.1v0.9h-1.1zM1454.6,489.3h1.5v1.2h-1.5zM1459.1,474.8h1.3v1.0h-1.3zM1463.1,507.6h1.5v1.2h-1.5zM1458.6,519.4h1.1v0.9h-1.1zM1440.0,500.0h0.9v0.7h-0.9zM1461.5,513.8h0.9v0.7h-0.9zM1455.4,479.7h1.1v0.9h-1.1zM1436.3,511.0h0.9v0.7h-0.9zM1427.0,499.8h1.5v1.2h-1.5zM1455.9,477.3h0.9v0.7h-0.9zM1422.2,486.6h0.9v0.7h-0.9zM1438.5,502.1h0.9v0.7h-0.9zM1434.4,504.9h1.1v0.9h-1.1zM1450.1,496.2h1.5v1.2h-1.5zM1438.5,485.0h1.3v1.0h-1.3zM1464.6,520.2h1.1v0.9h-1.1zM1459.4,479.0h0.9v0.7h-0.9zM1431.2,488.7h1.1v0.9h-1.1zM1433.5,483.1h1.3v1.0h-1.3zM1455.9,520.4h1.1v0.9h-1.1zM1465.7,506.6h1.3v1.0h-1.3zM1415.5,519.6h1.5v1.2h-1.5zM1420.3,523.4h1.5v1.2h-1.5zM1462.3,480.4h1.1v0.9h-1.1zM1416.7,495.0h1.5v1.2h-1.5zM1427.9,482.2h1.3v1.0h-1.3zM1412.3,491.4h1.3v1.0h-1.3zM1441.4,495.5h0.9v0.7h-0.9zM1430.7,499.7h1.3v1.0h-1.3zM1438.8,475.0h1.1v0.9h-1.1zM1467.7,477.2h1.3v1.0h-1.3zM1423.6,520.9h1.1v0.9h-1.1zM1423.5,478.6h1.5v1.2h-1.5zM1460.0,508.3h1.3v1.0h-1.3zM1432.1,500.7h1.5v1.2h-1.5zM1450.6,476.4h0.9v0.7h-0.9zM1456.9,481.5h0.9v0.7h-0.9zM1423.4,472.4h0.9v0.7h-0.9zM1457.0,476.1h1.1v0.9h-1.1zM1410.7,518.5h1.5v1.2h-1.5zM1407.2,525.7h1.5v1.2h-1.5zM1464.9,486.1h1.1v0.9h-1.1zM1409.2,510.2h0.9v0.7h-0.9zM1467.6,485.8h1.1v0.9h-1.1zM1419.2,488.5h1.3v1.0h-1.3zM1440.0,482.7h1.5v1.2h-1.5zM1438.0,481.2h1.3v1.0h-1.3zM1457.1,525.7h0.9v0.7h-0.9zM1407.5,511.5h1.1v0.9h-1.1zM1438.9,484.9h1.5v1.2h-1.5zM1413.2,516.1h1.5v1.2h-1.5zM1447.9,501.3h1.5v1.2h-1.5zM1467.6,488.3h1.1v0.9h-1.1zM1468.4,490.2h1.1v0.9h-1.1zM1432.0,490.4h0.9v0.7h-0.9zM1459.2,472.3h1.3v1.0h-1.3zM1433.6,474.5h1.5v1.2h-1.5zM1461.3,508.0h1.3v1.0h-1.3zM1444.2,509.3h0.9v0.7h-0.9zM1435.4,480.1h1.5v1.2h-1.5zM1406.7,491.3h1.3v1.0h-1.3zM1467.8,501.3h1.1v0.9h-1.1zM1408.7,519.6h1.1v0.9h-1.1zM1429.0,471.6h1.5v1.2h-1.5zM1411.8,486.7h1.1v0.9h-1.1zM1422.1,513.8h0.9v0.7h-0.9zM1423.1,476.4h1.5v1.2h-1.5zM1443.5,493.0h1.3v1.0h-1.3zM1425.7,484.2h1.1v0.9h-1.1zM1447.9,510.5h1.5v1.2h-1.5zM1454.7,510.8h1.5v1.2h-1.5zM1415.9,511.0h1.1v0.9h-1.1zM1409.3,517.0h1.5v1.2h-1.5zM1452.7,515.8h1.1v0.9h-1.1zM1463.8,512.5h0.9v0.7h-0.9zM1458.6,503.3h1.1v0.9h-1.1zM1411.9,473.8h1.3v1.0h-1.3zM1466.9,492.0h1.5v1.2h-1.5zM1441.7,505.7h1.1v0.9h-1.1zM1437.3,471.7h0.9v0.7h-0.9zM1453.6,498.9h0.9v0.7h-0.9zM1448.0,475.1h1.5v1.2h-1.5zM1422.4,475.6h1.3v1.0h-1.3zM1421.3,512.7h1.1v0.9h-1.1zM1453.1,524.7h1.5v1.2h-1.5zM1459.8,475.7h1.3v1.0h-1.3zM1454.8,505.1h1.1v0.9h-1.1zM1411.4,479.5h1.3v1.0h-1.3zM1447.5,509.3h1.1v0.9h-1.1zM1407.3,474.8h1.3v1.0h-1.3zM1467.8,476.9h1.1v0.9h-1.1zM1449.1,487.4h1.3v1.0h-1.3zM1435.8,496.9h0.9v0.7h-0.9zM1469.1,501.4h1.3v1.0h-1.3zM1468.1,522.5h0.9v0.7h-0.9zM1424.7,475.7h1.5v1.2h-1.5zM1469.1,492.6h1.1v0.9h-1.1zM1411.2,476.4h1.3v1.0h-1.3zM1466.5,478.7h1.3v1.0h-1.3zM1462.4,509.8h1.1v0.9h-1.1zM1437.9,519.2h1.5v1.2h-1.5zM1408.1,471.7h1.5v1.2h-1.5zM1449.4,493.6h1.1v0.9h-1.1zM1432.7,492.0h0.9v0.7h-0.9zM1459.4,471.6h1.3v1.0h-1.3zM1459.4,478.0h1.1v0.9h-1.1zM1451.4,520.6h1.3v1.0h-1.3zM1422.5,475.0h1.5v1.2h-1.5zM1469.4,503.6h1.3v1.0h-1.3zM1464.8,512.7h0.9v0.7h-0.9zM1424.2,474.3h1.3v1.0h-1.3zM1446.5,479.6h1.3v1.0h-1.3zM1434.0,488.7h1.3v1.0h-1.3zM1456.0,494.8h0.9v0.7h-0.9zM1457.7,505.9h1.1v0.9h-1.1zM1451.8,474.2h1.5v1.2h-1.5zM1434.9,512.5h1.3v1.0h-1.3zM1437.1,521.2h1.1v0.9h-1.1zM1417.3,494.1h1.3v1.0h-1.3zM1425.3,511.8h1.3v1.0h-1.3zM1432.1,484.5h1.5v1.2h-1.5zM1441.6,493.0h1.1v0.9h-1.1zM1447.0,475.6h1.5v1.2h-1.5zM1441.2,496.2h1.3v1.0h-1.3zM1469.3,496.0h1.1v0.9h-1.1zM1441.0,484.8h1.1v0.9h-1.1zM1428.0,476.5h1.1v0.9h-1.1zM1429.7,515.6h1.1v0.9h-1.1zM1462.4,512.4h1.5v1.2h-1.5zM1430.6,512.1h1.1v0.9h-1.1zM1430.2,489.9h0.9v0.7h-0.9zM1437.9,502.8h1.3v1.0h-1.3zM1414.4,498.9h1.1v0.9h-1.1zM1412.3,520.4h1.5v1.2h-1.5zM1431.7,495.8h1.3v1.0h-1.3zM1460.0,519.1h0.9v0.7h-0.9zM1414.5,494.7h1.5v1.2h-1.5zM1467.5,498.2h0.9v0.7h-0.9zM1431.2,522.0h1.5v1.2h-1.5zM1467.8,485.0h0.9v0.7h-0.9zM1420.6,479.8h0.9v0.7h-0.9zM1465.8,510.8h1.5v1.2h-1.5zM1411.9,513.8h0.9v0.7h-0.9zM1455.8,484.2h0.9v0.7h-0.9zM1447.2,488.1h1.1v0.9h-1.1zM1446.0,500.3h1.5v1.2h-1.5zM1450.5,477.6h0.9v0.7h-0.9zM1425.4,522.9h1.1v0.9h-1.1zM1430.9,483.7h0.9v0.7h-0.9zM1407.2,487.9h1.5v1.2h-1.5zM1424.1,488.7h1.1v0.9h-1.1zM1436.4,484.3h1.1v0.9h-1.1zM1408.3,493.9h1.3v1.0h-1.3zM1410.0,482.1h1.5v1.2h-1.5zM1411.6,483.9h1.5v1.2h-1.5zM1464.8,483.9h0.9v0.7h-0.9zM1450.3,510.6h1.3v1.0h-1.3zM1449.5,482.3h1.3v1.0h-1.3zM1453.1,499.0h1.1v0.9h-1.1zM1437.7,482.4h1.1v0.9h-1.1zM1421.0,483.6h1.3v1.0h-1.3zM1413.4,505.5h1.1v0.9h-1.1zM1463.0,497.9h0.9v0.7h-0.9zM1466.3,479.5h1.5v1.2h-1.5zM1409.9,472.8h1.1v0.9h-1.1zM1432.7,510.2h1.1v0.9h-1.1zM1431.3,520.5h1.3v1.0h-1.3zM1452.7,525.9h1.1v0.9h-1.1zM1427.2,481.6h1.5v1.2h-1.5zM1408.5,507.7h1.5v1.2h-1.5zM1459.4,525.2h1.5v1.2h-1.5zM1417.2,471.7h1.3v1.0h-1.3zM1411.6,494.4h0.9v0.7h-0.9zM1441.9,512.9h1.5v1.2h-1.5zM1429.0,516.3h1.5v1.2h-1.5zM1412.0,509.9h1.1v0.9h-1.1zM1430.0,521.6h1.1v0.9h-1.1zM1426.9,511.7h1.5v1.2h-1.5zM1408.4,493.9h1.5v1.2h-1.5zM1409.1,473.4h0.9v0.7h-0.9zM1457.1,474.9h1.1v0.9h-1.1zM1453.6,520.5h1.3v1.0h-1.3zM1429.4,489.8h0.9v0.7h-0.9zM1423.0,510.6h1.3v1.0h-1.3zM1464.7,487.7h0.9v0.7h-0.9zM1408.0,484.2h1.5v1.2h-1.5zM1451.6,496.9h1.5v1.2h-1.5zM1456.3,521.3h1.5v1.2h-1.5zM1414.9,498.6h0.9v0.7h-0.9zM1457.1,511.7h1.1v0.9h-1.1zM1444.8,489.4h1.3v1.0h-1.3zM1435.5,514.2h0.9v0.7h-0.9zM1438.7,492.8h1.1v0.9h-1.1zM1422.1,475.0h0.9v0.7h-0.9zM1436.8,501.2h1.1v0.9h-1.1zM1468.3,519.6h0.9v0.7h-0.9zM1423.2,476.1h0.9v0.7h-0.9zM1433.0,525.4h1.5v1.2h-1.5zM1417.4,478.7h1.5v1.2h-1.5zM1445.6,508.2h0.9v0.7h-0.9zM1455.6,487.5h1.3v1.0h-1.3zM1442.2,491.8h1.3v1.0h-1.3zM1419.0,485.0h1.1v0.9h-1.1zM1421.3,486.8h1.1v0.9h-1.1zM1427.1,493.1h1.1v0.9h-1.1zM1438.5,484.1h0.9v0.7h-0.9zM1447.7,525.5h0.9v0.7h-0.9zM1406.8,519.6h1.1v0.9h-1.1zM1459.5,521.3h0.9v0.7h-0.9zM1461.7,484.2h0.9v0.7h-0.9zM1418.4,524.5h1.1v0.9h-1.1zM1465.1,491.8h1.1v0.9h-1.1zM1434.8,485.7h0.9v0.7h-0.9zM1413.2,504.0h1.3v1.0h-1.3zM1420.2,491.6h1.1v0.9h-1.1zM1409.3,526.0h0.9v0.7h-0.9zM1444.3,507.0h1.1v0.9h-1.1zM1457.8,516.1h1.5v1.2h-1.5zM1449.2,481.6h1.3v1.0h-1.3zM1411.4,473.2h1.5v1.2h-1.5zM1441.0,474.9h0.9v0.7h-0.9zM1456.6,507.7h1.1v0.9h-1.1zM1446.8,476.5h1.1v0.9h-1.1zM1431.6,486.3h1.3v1.0h-1.3zM1448.6,494.3h0.9v0.7h-0.9zM1426.2,502.4h1.3v1.0h-1.3zM1432.6,472.5h1.3v1.0h-1.3zM1447.1,492.8h1.5v1.2h-1.5zM1419.3,471.8h1.1v0.9h-1.1zM1433.2,516.2h1.5v1.2h-1.5zM1442.9,491.4h1.1v0.9h-1.1zM1414.7,474.3h1.1v0.9h-1.1zM1446.9,521.1h0.9v0.7h-0.9zM1442.6,522.0h1.1v0.9h-1.1zM1415.7,486.9h1.1v0.9h-1.1zM1464.8,477.4h1.5v1.2h-1.5zM1454.0,514.7h1.1v0.9h-1.1zM1425.5,517.1h0.9v0.7h-0.9zM1468.0,497.8h0.9v0.7h-0.9zM1444.8,506.2h0.9v0.7h-0.9zM1463.5,505.3h1.1v0.9h-1.1zM1446.8,518.2h1.5v1.2h-1.5zM1445.2,482.2h1.5v1.2h-1.5zM1418.0,483.4h1.5v1.2h-1.5zM1465.6,480.0h1.3v1.0h-1.3zM1414.3,485.0h1.1v0.9h-1.1zM1409.1,502.1h0.9v0.7h-0.9zM1448.6,489.2h1.5v1.2h-1.5zM1444.3,501.5h1.3v1.0h-1.3zM1447.4,488.3h1.1v0.9h-1.1zM1433.3,507.4h1.5v1.2h-1.5zM1438.2,481.2h0.9v0.7h-0.9zM1445.5,498.2h1.1v0.9h-1.1zM1434.6,505.2h1.5v1.2h-1.5zM1459.2,515.7h1.5v1.2h-1.5zM1413.2,478.5h1.5v1.2h-1.5zM1429.5,515.2h0.9v0.7h-0.9zM1409.1,478.6h1.3v1.0h-1.3zM1455.5,499.4h0.9v0.7h-0.9zM1453.9,520.3h1.1v0.9h-1.1zM1408.1,475.1h0.9v0.7h-0.9zM1418.7,525.0h1.5v1.2h-1.5zM1424.6,515.7h1.1v0.9h-1.1zM1449.7,510.8h1.1v0.9h-1.1zM1410.6,490.6h1.3v1.0h-1.3zM1416.5,520.4h1.3v1.0h-1.3zM1463.5,496.4h1.3v1.0h-1.3zM1438.1,521.6h1.1v0.9h-1.1zM1443.8,505.1h1.1v0.9h-1.1zM1426.6,473.5h1.1v0.9h-1.1zM1431.9,506.2h1.3v1.0h-1.3zM1449.3,520.3h1.1v0.9h-1.1zM1456.4,485.9h0.9v0.7h-0.9zM1446.6,491.1h1.5v1.2h-1.5zM1441.5,503.1h0.9v0.7h-0.9zM1422.4,500.7h1.5v1.2h-1.5zM1453.0,491.7h1.5v1.2h-1.5zM1468.9,503.0h1.3v1.0h-1.3zM1427.3,475.9h1.1v0.9h-1.1zM1417.6,512.0h0.9v0.7h-0.9zM1425.2,499.6h1.3v1.0h-1.3zM1446.8,525.1h1.3v1.0h-1.3zM1452.7,512.2h1.1v0.9h-1.1zM1415.9,505.1h1.5v1.2h-1.5zM1432.8,491.3h0.9v0.7h-0.9zM1414.8,483.9h0.9v0.7h-0.9zM1407.9,471.6h1.3v1.0h-1.3zM1425.6,500.0h1.1v0.9h-1.1zM1432.5,487.9h1.1v0.9h-1.1zM1419.4,505.5h1.5v1.2h-1.5zM1416.5,472.3h1.1v0.9h-1.1zM1451.1,496.1h0.9v0.7h-0.9zM1446.7,519.0h1.3v1.0h-1.3zM1431.8,485.9h0.9v0.7h-0.9zM1410.0,516.2h1.3v1.0h-1.3zM1444.0,503.0h1.5v1.2h-1.5zM1422.2,520.7h0.9v0.7h-0.9zM1410.4,472.9h1.1v0.9h-1.1zM1421.5,474.7h0.9v0.7h-0.9zM1407.3,501.5h1.1v0.9h-1.1zM1415.5,482.4h1.5v1.2h-1.5zM1457.7,481.0h1.3v1.0h-1.3zM1410.5,505.6h1.5v1.2h-1.5zM1451.6,471.8h1.5v1.2h-1.5zM1453.4,496.9h1.5v1.2h-1.5zM1417.5,525.8h1.3v1.0h-1.3zM1421.1,473.6h1.3v1.0h-1.3zM1462.7,521.9h1.3v1.0h-1.3zM1451.3,486.0h1.5v1.2h-1.5zM1449.7,521.5h1.3v1.0h-1.3zM1425.1,522.1h1.1v0.9h-1.1zM1411.9,499.2h1.1v0.9h-1.1zM1422.9,484.4h1.1v0.9h-1.1zM1466.0,512.2h1.3v1.0h-1.3zM1418.6,492.7h1.1v0.9h-1.1zM1430.4,517.9h1.5v1.2h-1.5zM1436.2,500.4h0.9v0.7h-0.9zM1460.5,495.3h1.1v0.9h-1.1zM1442.4,488.3h1.1v0.9h-1.1zM1431.2,503.4h1.1v0.9h-1.1zM1415.6,473.0h0.9v0.7h-0.9zM1445.7,480.3h1.1v0.9h-1.1zM1450.6,473.2h1.1v0.9h-1.1zM1450.1,506.0h0.9v0.7h-0.9zM1452.9,475.1h1.3v1.0h-1.3zM1419.1,523.5h0.9v0.7h-0.9zM1461.9,512.7h1.5v1.2h-1.5zM1413.2,482.7h0.9v0.7h-0.9zM1408.6,523.2h0.9v0.7h-0.9zM1458.5,505.9h1.3v1.0h-1.3zM1436.6,478.7h1.1v0.9h-1.1zM1425.1,489.8h1.3v1.0h-1.3zM1407.8,485.5h1.3v1.0h-1.3zM1409.5,512.9h1.3v1.0h-1.3zM1455.0,504.3h1.5v1.2h-1.5zM1460.1,505.2h0.9v0.7h-0.9zM1456.2,473.2h0.9v0.7h-0.9zM1428.3,509.9h1.1v0.9h-1.1zM1451.5,516.6h1.3v1.0h-1.3zM1417.2,471.6h1.1v0.9h-1.1zM1424.7,512.4h0.9v0.7h-0.9zM1406.8,498.2h1.5v1.2h-1.5zM1450.3,516.5h1.5v1.2h-1.5zM1443.8,523.7h1.3v1.0h-1.3zM1442.9,480.2h1.1v0.9h-1.1zM1465.6,484.1h1.1v0.9h-1.1zM1413.4,506.2h0.9v0.7h-0.9zM1437.4,525.5h0.9v0.7h-0.9zM1446.1,490.9h1.5v1.2h-1.5zM1465.0,520.1h0.9v0.7h-0.9zM1433.1,506.7h1.3v1.0h-1.3zM1419.5,485.8h1.1v0.9h-1.1zM1430.4,519.7h1.1v0.9h-1.1zM1466.0,478.4h0.9v0.7h-0.9zM1428.5,489.3h1.1v0.9h-1.1zM1461.2,496.0h1.3v1.0h-1.3zM1417.2,495.4h1.3v1.0h-1.3zM1443.0,478.4h1.5v1.2h-1.5zM1447.0,509.5h1.1v0.9h-1.1zM1423.4,512.6h1.1v0.9h-1.1zM1452.1,524.6h1.3v1.0h-1.3zM1444.5,490.5h1.1v0.9h-1.1zM1427.2,481.8h0.9v0.7h-0.9zM1416.9,507.4h1.1v0.9h-1.1zM1430.7,525.1h1.3v1.0h-1.3zM1452.7,495.2h1.1v0.9h-1.1zM1413.4,521.2h1.3v1.0h-1.3zM1419.5,492.7h0.9v0.7h-0.9zM1407.3,518.1h1.5v1.2h-1.5zM1450.2,498.8h1.3v1.0h-1.3zM1435.7,479.2h1.5v1.2h-1.5zM1406.8,484.7h1.5v1.2h-1.5zM1450.7,503.5h1.5v1.2h-1.5zM1459.8,507.9h1.1v0.9h-1.1zM1449.3,506.5h1.5v1.2h-1.5zM1433.7,485.7h0.9v0.7h-0.9zM1462.9,484.7h1.5v1.2h-1.5zM1451.4,505.8h1.3v1.0h-1.3zM1460.0,497.8h0.9v0.7h-0.9zM1445.7,493.8h1.1v0.9h-1.1zM1462.9,489.4h0.9v0.7h-0.9zM1431.0,498.2h0.9v0.7h-0.9zM1408.9,501.1h1.1v0.9h-1.1zM1451.6,523.3h1.1v0.9h-1.1zM1439.2,477.0h1.5v1.2h-1.5zM1440.6,510.6h0.9v0.7h-0.9zM1446.8,516.7h1.3v1.0h-1.3zM1432.4,523.2h1.1v0.9h-1.1zM1468.9,481.5h0.9v0.7h-0.9zM1452.4,505.0h0.9v0.7h-0.9zM1422.4,492.3h0.9v0.7h-0.9zM1407.3,494.3h1.5v1.2h-1.5zM1446.1,508.3h1.3v1.0h-1.3zM1413.4,488.0h1.5v1.2h-1.5zM1465.7,500.2h1.1v0.9h-1.1zM1469.1,523.9h1.5v1.2h-1.5zM1419.9,478.5h0.9v0.7h-0.9zM1457.5,506.1h1.5v1.2h-1.5zM1447.0,510.8h1.1v0.9h-1.1zM1428.7,506.3h1.5v1.2h-1.5zM1436.0,487.5h1.1v0.9h-1.1zM1455.6,497.1h1.1v0.9h-1.1zM1423.3,492.0h1.3v1.0h-1.3zM1468.4,508.5h1.5v1.2h-1.5zM1406.7,510.8h1.3v1.0h-1.3zM1429.1,507.2h1.3v1.0h-1.3zM1436.7,494.9h0.9v0.7h-0.9zM1448.0,491.3h1.3v1.0h-1.3zM1460.3,474.6h1.3v1.0h-1.3zM1455.9,479.2h1.3v1.0h-1.3zM1446.4,472.3h0.9v0.7h-0.9zM1419.7,475.4h1.3v1.0h-1.3zM1422.3,477.0h1.1v0.9h-1.1zM1460.3,481.6h1.5v1.2h-1.5zM1428.3,479.8h1.5v1.2h-1.5zM1456.4,480.7h0.9v0.7h-0.9zM1448.6,520.2h1.3v1.0h-1.3zM1418.9,509.3h0.9v0.7h-0.9zM1453.2,495.4h0.9v0.7h-0.9zM1441.5,485.9h1.1v0.9h-1.1zM1458.6,497.3h0.9v0.7h-0.9zM1437.0,520.8h1.5v1.2h-1.5zM1422.0,480.5h0.9v0.7h-0.9zM1416.6,489.0h1.5v1.2h-1.5zM1448.4,517.3h1.3v1.0h-1.3zM1433.3,526.0h0.9v0.7h-0.9zM1417.9,491.1h0.9v0.7h-0.9zM1407.8,474.0h1.3v1.0h-1.3zM1457.4,476.6h1.5v1.2h-1.5zM1437.0,520.4h0.9v0.7h-0.9zM1419.9,494.1h1.1v0.9h-1.1zM1427.8,518.5h1.3v1.0h-1.3zM1428.0,513.9h1.1v0.9h-1.1zM1424.4,490.1h1.3v1.0h-1.3zM1441.4,516.6h1.3v1.0h-1.3zM1428.9,498.4h1.3v1.0h-1.3zM1438.2,486.3h1.3v1.0h-1.3zM1467.9,507.2h0.9v0.7h-0.9zM1427.3,488.8h1.3v1.0h-1.3zM1414.5,524.5h0.9v0.7h-0.9zM1455.9,473.7h1.5v1.2h-1.5zM1440.9,474.2h1.3v1.0h-1.3zM1413.3,474.0h1.5v1.2h-1.5zM1444.8,507.4h1.5v1.2h-1.5zM1445.4,505.7h0.9v0.7h-0.9zM1419.9,507.9h1.5v1.2h-1.5zM1445.9,481.0h1.1v0.9h-1.1zM1461.3,494.5h0.9v0.7h-0.9zM1464.1,507.2h1.3v1.0h-1.3zM1461.4,479.1h1.3v1.0h-1.3zM1441.9,485.6h1.3v1.0h-1.3zM1418.1,473.4h0.9v0.7h-0.9zM1433.6,506.5h0.9v0.7h-0.9zM1437.9,500.0h0.9v0.7h-0.9zM1455.2,494.4h1.5v1.2h-1.5zM1434.6,472.3h1.5v1.2h-1.5zM1443.9,525.6h1.1v0.9h-1.1zM1436.5,494.0h0.9v0.7h-0.9zM1411.7,497.2h1.1v0.9h-1.1zM1446.0,494.8h0.9v0.7h-0.9zM1449.6,478.1h0.9v0.7h-0.9zM1420.2,478.1h1.5v1.2h-1.5zM1407.6,510.7h1.1v0.9h-1.1zM1434.9,512.1h0.9v0.7h-0.9zM1429.6,512.2h1.1v0.9h-1.1zM1452.5,476.1h1.5v1.2h-1.5zM1435.5,522.3h1.3v1.0h-1.3zM1464.1,474.4h0.9v0.7h-0.9zM1407.2,472.3h0.9v0.7h-0.9zM1431.0,488.5h1.1v0.9h-1.1zM1466.8,517.0h0.9v0.7h-0.9zM1426.4,523.2h1.5v1.2h-1.5zM1436.1,480.6h0.9v0.7h-0.9zM1429.4,506.6h1.5v1.2h-1.5zM1436.5,513.9h1.5v1.2h-1.5zM1466.0,514.3h1.3v1.0h-1.3zM1424.9,474.8h1.3v1.0h-1.3zM1461.3,511.1h0.9v0.7h-0.9zM1458.9,504.3h1.3v1.0h-1.3zM1443.3,524.7h1.1v0.9h-1.1zM1430.2,508.8h1.1v0.9h-1.1zM1457.4,486.9h0.9v0.7h-0.9zM1426.8,486.1h1.1v0.9h-1.1zM1443.5,516.0h0.9v0.7h-0.9zM1424.7,479.2h1.1v0.9h-1.1zM1423.8,517.9h1.5v1.2h-1.5zM1428.4,476.1h1.5v1.2h-1.5zM1456.7,482.4h1.1v0.9h-1.1zM1426.0,474.6h1.5v1.2h-1.5zM1435.8,482.8h1.3v1.0h-1.3zM1443.4,472.0h1.5v1.2h-1.5zM1435.5,476.3h1.3v1.0h-1.3zM1455.1,484.2h1.3v1.0h-1.3zM1462.3,499.9h1.5v1.2h-1.5zM1438.4,482.5h1.1v0.9h-1.1zM1418.6,481.3h1.3v1.0h-1.3zM1429.4,502.3h1.5v1.2h-1.5zM1455.6,518.2h1.1v0.9h-1.1zM1409.3,525.8h1.3v1.0h-1.3zM1461.1,491.8h1.5v1.2h-1.5zM1456.1,480.0h0.9v0.7h-0.9zM1428.2,499.8h0.9v0.7h-0.9zM1412.4,482.7h1.5v1.2h-1.5zM1443.5,483.1h1.3v1.0h-1.3zM1433.3,523.1h1.1v0.9h-1.1zM1422.5,473.6h1.1v0.9h-1.1zM1469.2,492.1h0.9v0.7h-0.9zM1409.7,501.9h1.5v1.2h-1.5zM1437.2,517.6h0.9v0.7h-0.9zM1460.9,506.4h0.9v0.7h-0.9zM1451.0,476.4h1.3v1.0h-1.3zM1442.1,506.4h1.5v1.2h-1.5zM1418.0,517.8h1.3v1.0h-1.3zM1467.3,525.5h1.1v0.9h-1.1zM1417.3,522.8h1.3v1.0h-1.3zM1410.2,501.6h0.9v0.7h-0.9zM1459.2,474.1h1.5v1.2h-1.5zM1410.0,479.4h0.9v0.7h-0.9zM1465.7,508.4h1.3v1.0h-1.3zM1443.7,495.5h0.9v0.7h-0.9zM1436.2,491.8h1.5v1.2h-1.5zM1414.3,497.7h1.1v0.9h-1.1zM1434.3,515.5h0.9v0.7h-0.9zM1436.0,521.2h0.9v0.7h-0.9zM1416.4,516.9h0.9v0.7h-0.9zM1465.3,518.7h1.1v0.9h-1.1zM1455.5,523.7h1.5v1.2h-1.5zM1459.6,505.7h1.5v1.2h-1.5zM1467.8,489.1h1.1v0.9h-1.1zM1436.6,505.7h1.1v0.9h-1.1zM1427.4,511.6h1.1v0.9h-1.1zM1451.5,501.7h1.1v0.9h-1.1zM1434.2,479.6h1.5v1.2h-1.5zM1432.4,480.0h1.3v1.0h-1.3zM1442.5,487.7h1.1v0.9h-1.1zM1422.9,477.5h1.5v1.2h-1.5zM1463.4,477.7h0.9v0.7h-0.9zM1446.3,514.4h1.1v0.9h-1.1zM1441.8,517.0h0.9v0.7h-0.9zM1422.7,482.5h1.3v1.0h-1.3zM1433.7,485.8h1.1v0.9h-1.1zM1464.8,476.8h1.3v1.0h-1.3zM1432.7,480.3h1.3v1.0h-1.3zM1415.6,506.4h1.5v1.2h-1.5zM1457.3,490.1h1.1v0.9h-1.1zM1434.4,514.5h1.3v1.0h-1.3zM1418.2,495.2h1.5v1.2h-1.5zM1420.3,502.6h1.1v0.9h-1.1zM1459.6,499.9h1.1v0.9h-1.1zM1451.3,482.2h0.9v0.7h-0.9zM1458.7,520.0h1.5v1.2h-1.5zM1454.5,481.1h1.1v0.9h-1.1zM1445.1,510.1h1.1v0.9h-1.1zM1443.2,482.5h0.9v0.7h-0.9zM1450.1,499.8h0.9v0.7h-0.9zM1439.2,490.4h1.3v1.0h-1.3zM1459.5,518.6h1.5v1.2h-1.5zM1412.2,493.8h1.5v1.2h-1.5zM1414.9,507.8h1.1v0.9h-1.1zM1418.2,516.8h1.3v1.0h-1.3zM1408.8,509.8h0.9v0.7h-0.9zM1428.9,522.3h0.9v0.7h-0.9zM1414.1,510.4h1.3v1.0h-1.3zM1455.6,518.8h0.9v0.7h-0.9zM1424.9,477.4h1.5v1.2h-1.5zM1434.6,472.9h1.1v0.9h-1.1zM1407.8,524.2h1.1v0.9h-1.1zM1445.5,480.6h1.3v1.0h-1.3zM1422.3,516.0h0.9v0.7h-0.9zM1407.7,522.0h1.1v0.9h-1.1zM1423.0,517.1h1.5v1.2h-1.5zM1439.4,509.8h0.9v0.7h-0.9zM1428.6,476.6h1.1v0.9h-1.1zM1409.3,478.2h1.5v1.2h-1.5zM1443.4,513.0h0.9v0.7h-0.9zM1414.2,493.6h1.1v0.9h-1.1zM1440.6,483.9h1.1v0.9h-1.1zM1415.8,502.7h1.5v1.2h-1.5zM1416.9,516.5h1.5v1.2h-1.5zM1450.2,504.0h0.9v0.7h-0.9zM1431.4,522.8h1.3v1.0h-1.3zM1427.8,484.6h1.3v1.0h-1.3zM1451.6,517.4h1.3v1.0h-1.3zM1457.8,517.7h0.9v0.7h-0.9zM1427.0,479.5h1.3v1.0h-1.3zM1422.2,494.5h0.9v0.7h-0.9zM1429.5,500.4h0.9v0.7h-0.9zM1426.9,482.4h0.9v0.7h-0.9zM1420.7,494.4h1.5v1.2h-1.5zM1455.4,522.6h0.9v0.7h-0.9zM1457.5,519.7h0.9v0.7h-0.9zM1408.7,506.5h1.3v1.0h-1.3zM1464.3,505.5h0.9v0.7h-0.9zM1445.6,485.2h0.9v0.7h-0.9zM1433.8,523.3h1.3v1.0h-1.3zM1413.6,490.4h1.1v0.9h-1.1zM1414.1,503.9h1.3v1.0h-1.3zM1411.8,503.7h1.1v0.9h-1.1zM1434.2,499.4h1.3v1.0h-1.3zM1464.2,503.0h1.3v1.0h-1.3zM1421.8,476.3h1.3v1.0h-1.3zM1459.4,504.7h1.1v0.9h-1.1zM1447.5,482.5h1.3v1.0h-1.3zM1435.5,501.4h1.5v1.2h-1.5zM1436.0,488.4h1.1v0.9h-1.1zM1427.5,481.8h1.5v1.2h-1.5zM1467.6,493.1h1.3v1.0h-1.3zM1416.7,523.4h1.3v1.0h-1.3zM1441.6,498.3h1.3v1.0h-1.3zM1461.8,483.3h0.9v0.7h-0.9zM1455.1,480.1h0.9v0.7h-0.9zM1444.7,490.5h0.9v0.7h-0.9zM1439.1,517.0h1.3v1.0h-1.3zM1452.8,477.5h1.1v0.9h-1.1zM1468.8,508.4h1.1v0.9h-1.1zM1432.8,507.9h1.1v0.9h-1.1zM1449.0,505.1h1.3v1.0h-1.3zM1458.2,499.7h1.5v1.2h-1.5zM1423.4,505.9h1.1v0.9h-1.1zM1432.5,477.1h1.5v1.2h-1.5zM1454.7,503.4h1.5v1.2h-1.5zM1431.5,525.6h1.1v0.9h-1.1zM1432.8,514.2h0.9v0.7h-0.9zM1430.4,496.1h1.5v1.2h-1.5zM1424.6,490.7h1.3v1.0h-1.3zM1431.1,501.8h1.5v1.2h-1.5zM1447.3,471.9h1.5v1.2h-1.5zM1430.5,487.9h1.3v1.0h-1.3zM1457.1,495.2h1.5v1.2h-1.5zM1443.1,476.3h1.3v1.0h-1.3zM1426.9,517.5h1.1v0.9h-1.1zM1466.9,482.6h1.5v1.2h-1.5zM1462.6,523.6h0.9v0.7h-0.9zM1409.5,502.3h1.5v1.2h-1.5zM1425.4,500.7h1.3v1.0h-1.3zM1440.4,525.9h1.5v1.2h-1.5zM1431.0,491.0h1.3v1.0h-1.3zM1435.0,472.1h0.9v0.7h-0.9zM1439.6,476.9h1.3v1.0h-1.3zM1438.1,506.8h1.1v0.9h-1.1zM1461.9,524.1h1.5v1.2h-1.5zM1431.8,513.3h1.3v1.0h-1.3zM1450.1,512.2h0.9v0.7h-0.9zM1417.3,488.8h0.9v0.7h-0.9zM1458.5,499.4h0.9v0.7h-0.9zM1447.8,487.6h1.3v1.0h-1.3zM1458.2,525.5h1.5v1.2h-1.5zM1446.3,500.1h1.1v0.9h-1.1zM1438.3,481.8h1.1v0.9h-1.1zM1410.3,502.3h0.9v0.7h-0.9zM1428.8,525.7h0.9v0.7h-0.9zM1450.1,472.1h0.9v0.7h-0.9zM1425.8,509.1h0.9v0.7h-0.9zM1464.3,493.2h0.9v0.7h-0.9zM1443.4,507.9h1.1v0.9h-1.1zM1417.5,513.4h1.3v1.0h-1.3zM1461.4,520.3h1.1v0.9h-1.1zM1442.7,493.9h0.9v0.7h-0.9zM1415.7,499.8h0.9v0.7h-0.9zM1408.3,475.6h1.5v1.2h-1.5zM1458.4,504.9h0.9v0.7h-0.9zM1447.5,508.8h1.3v1.0h-1.3zM1415.6,484.5h1.3v1.0h-1.3zM1417.2,486.0h0.9v0.7h-0.9zM1460.6,523.1h0.9v0.7h-0.9zM1428.5,496.0h1.5v1.2h-1.5zM1407.7,483.5h1.5v1.2h-1.5zM1443.2,523.8h1.5v1.2h-1.5zM1409.9,484.5h1.1v0.9h-1.1zM1409.3,522.2h1.1v0.9h-1.1zM1426.3,520.5h1.5v1.2h-1.5zM1425.6,504.3h1.5v1.2h-1.5zM1468.2,475.2h1.5v1.2h-1.5zM1449.0,503.4h1.5v1.2h-1.5zM1426.0,519.2h1.5v1.2h-1.5zM1407.9,518.8h0.9v0.7h-0.9zM1417.4,491.0h1.1v0.9h-1.1zM1407.0,519.6h1.5v1.2h-1.5zM1441.9,477.8h1.5v1.2h-1.5zM1427.7,507.0h0.9v0.7h-0.9zM1433.1,521.3h1.1v0.9h-1.1zM1430.9,497.0h1.3v1.0h-1.3zM1421.4,473.4h0.9v0.7h-0.9zM1428.0,480.0h1.1v0.9h-1.1zM1412.3,486.2h1.1v0.9h-1.1zM1441.5,497.0h1.1v0.9h-1.1zM1416.5,490.7h1.5v1.2h-1.5zM1430.2,523.7h1.1v0.9h-1.1zM1425.2,497.4h1.1v0.9h-1.1zM1420.8,496.2h1.1v0.9h-1.1zM1465.9,525.9h1.5v1.2h-1.5zM1443.5,491.6h1.1v0.9h-1.1zM1432.0,499.3h1.1v0.9h-1.1zM1461.5,478.2h0.9v0.7h-0.9zM1440.7,486.2h1.5v1.2h-1.5zM1408.3,510.6h1.1v0.9h-1.1zM1426.1,492.8h0.9v0.7h-0.9zM1450.3,513.8h1.1v0.9h-1.1zM1426.7,507.6h0.9v0.7h-0.9zM1410.8,521.3h1.3v1.0h-1.3zM1418.6,510.7h0.9v0.7h-0.9zM1420.8,478.4h1.5v1.2h-1.5zM1424.3,493.5h1.5v1.2h-1.5zM1455.3,519.6h1.1v0.9h-1.1zM1465.5,481.1h1.3v1.0h-1.3zM1449.3,507.7h1.3v1.0h-1.3zM1463.0,472.9h1.5v1.2h-1.5zM1422.2,517.6h1.3v1.0h-1.3zM1463.6,476.8h1.3v1.0h-1.3zM1413.8,521.2h1.1v0.9h-1.1zM1451.4,473.7h0.9v0.7h-0.9zM1444.8,495.0h1.3v1.0h-1.3zM1416.3,511.7h1.3v1.0h-1.3zM1446.2,522.8h1.1v0.9h-1.1zM1442.4,510.6h1.3v1.0h-1.3zM1464.8,508.0h1.3v1.0h-1.3zM1465.4,477.6h1.3v1.0h-1.3zM1463.3,519.2h0.9v0.7h-0.9zM1467.9,508.6h0.9v0.7h-0.9zM1456.4,483.0h1.3v1.0h-1.3zM1453.7,476.2h1.5v1.2h-1.5zM1469.4,505.0h1.1v0.9h-1.1zM1424.2,476.4h1.5v1.2h-1.5zM1434.4,490.0h1.5v1.2h-1.5zM1438.5,508.4h1.1v0.9h-1.1zM1433.5,499.4h1.1v0.9h-1.1zM1437.3,481.8h1.3v1.0h-1.3zM1417.5,480.4h1.1v0.9h-1.1zM1440.8,485.1h0.9v0.7h-0.9zM1417.1,490.4h0.9v0.7h-0.9zM1419.2,488.4h1.1v0.9h-1.1zM1449.7,498.0h1.5v1.2h-1.5zM1421.5,484.7h1.5v1.2h-1.5zM1414.9,506.4h1.3v1.0h-1.3zM1414.9,510.1h1.1v0.9h-1.1zM1427.5,515.9h1.5v1.2h-1.5zM1454.4,480.7h1.1v0.9h-1.1zM1444.2,496.6h1.5v1.2h-1.5zM1458.9,477.7h1.3v1.0h-1.3zM1407.3,498.0h0.9v0.7h-0.9zM1410.3,486.8h1.1v0.9h-1.1zM1413.5,488.3h0.9v0.7h-0.9zM1416.7,495.8h1.3v1.0h-1.3zM1424.7,501.9h0.9v0.7h-0.9zM1407.2,525.6h1.5v1.2h-1.5zM1411.8,510.6h1.3v1.0h-1.3zM1413.4,498.1h1.5v1.2h-1.5zM1437.3,514.2h1.3v1.0h-1.3zM1407.0,521.6h1.3v1.0h-1.3zM1446.0,522.5h1.3v1.0h-1.3zM1447.6,475.8h0.9v0.7h-0.9zM1408.1,493.0h1.1v0.9h-1.1zM1425.2,481.6h1.1v0.9h-1.1zM1412.9,510.7h1.3v1.0h-1.3zM1453.3,489.3h1.1v0.9h-1.1zM1447.3,490.9h1.1v0.9h-1.1zM1429.7,501.5h1.3v1.0h-1.3zM1459.3,485.3h0.9v0.7h-0.9zM1409.1,502.4h1.5v1.2h-1.5zM1463.5,523.0h1.5v1.2h-1.5zM1433.1,511.3h1.3v1.0h-1.3zM1444.5,505.6h1.1v0.9h-1.1zM1449.8,480.4h1.5v1.2h-1.5zM1446.6,493.4h0.9v0.7h-0.9zM1460.1,497.6h1.1v0.9h-1.1zM1452.0,471.7h1.5v1.2h-1.5zM1415.5,475.4h0.9v0.7h-0.9zM1438.9,494.5h1.3v1.0h-1.3zM1410.5,472.0h1.1v0.9h-1.1zM1463.5,480.5h1.3v1.0h-1.3zM1406.8,515.3h1.3v1.0h-1.3zM1442.3,497.1h1.3v1.0h-1.3zM1439.1,494.8h1.1v0.9h-1.1zM1467.9,523.9h0.9v0.7h-0.9zM1457.6,474.8h1.3v1.0h-1.3zM1444.9,487.7h1.5v1.2h-1.5zM1466.5,497.7h1.1v0.9h-1.1zM1425.4,490.2h0.9v0.7h-0.9zM1459.9,483.6h1.5v1.2h-1.5zM1450.1,479.5h1.3v1.0h-1.3zM1441.5,522.9h1.3v1.0h-1.3zM1439.9,502.3h1.5v1.2h-1.5zM1422.9,483.9h1.1v0.9h-1.1zM1441.0,477.6h1.3v1.0h-1.3zM1447.4,481.7h1.3v1.0h-1.3zM1451.2,483.9h1.5v1.2h-1.5zM1420.8,502.7h0.9v0.7h-0.9zM1452.8,521.1h0.9v0.7h-0.9zM1460.1,508.5h1.5v1.2h-1.5zM1415.0,498.9h0.9v0.7h-0.9zM1446.0,523.8h0.9v0.7h-0.9zM1435.5,508.9h1.1v0.9h-1.1zM1467.5,481.9h1.5v1.2h-1.5zM1455.3,479.0h0.9v0.7h-0.9zM1432.0,474.1h0.9v0.7h-0.9zM1407.5,503.9h1.1v0.9h-1.1zM1435.5,478.1h1.1v0.9h-1.1zM1433.3,519.9h1.1v0.9h-1.1zM1442.0,521.5h1.3v1.0h-1.3zM1417.1,512.1h1.3v1.0h-1.3zM1457.2,511.6h0.9v0.7h-0.9zM1458.5,478.2h1.3v1.0h-1.3zM1438.8,500.1h1.3v1.0h-1.3zM1452.0,473.9h1.3v1.0h-1.3zM1412.8,501.4h0.9v0.7h-0.9zM1408.7,521.1h1.1v0.9h-1.1zM1422.5,482.0h1.5v1.2h-1.5zM1407.8,525.4h1.5v1.2h-1.5zM1413.7,472.6h0.9v0.7h-0.9zM1411.1,485.6h1.1v0.9h-1.1zM1441.4,487.3h1.5v1.2h-1.5zM1459.2,503.6h1.3v1.0h-1.3zM1440.4,509.1h1.3v1.0h-1.3zM1466.3,472.3h1.3v1.0h-1.3zM1469.2,498.1h1.5v1.2h-1.5zM1461.5,515.1h0.9v0.7h-0.9zM1411.2,505.3h1.5v1.2h-1.5zM1459.6,524.2h1.5v1.2h-1.5z" fill="#222"/>
<rect x="1373.3" y="458.5" width="61.7" height="11" fill="#9b9b9b" stroke="#1c1c1c" stroke-width="1.3"/>
<rect x="1440.5" y="458.5" width="72.9" height="11" fill="#9b9b9b" stroke="#1c1c1c" stroke-width="1.3"/>
<line x1="1438.2" y1="369.5" x2="1438.2" y2="414.0" stroke="#2a2a2a" stroke-width="1.3" stroke-dasharray="7.8 3.2"/>
<line x1="1438.2" y1="421.0" x2="1438.2" y2="458.0" stroke="#2a2a2a" stroke-width="1.6" stroke-dasharray="4.2 2.2"/>
<line x1="1437.0" y1="458.0" x2="1437.0" y2="480.0" stroke="#333" stroke-width="0.8" />
<line x1="1439.4" y1="458.0" x2="1439.4" y2="480.0" stroke="#333" stroke-width="0.8" />
<rect x="1425" y="414.3" width="26.6" height="6" fill="#9a9a9a" stroke="#1c1c1c" stroke-width="1"/>
<text transform="translate(1462.92 426.70) scale(1.05 1)" font-size="28.4" font-weight="normal" text-anchor="start" fill="#1a1a1a">r</text>
<rect x="1436.9" y="335" width="3.0" height="8" fill="#fff" stroke="#1c1c1c" stroke-width="0.9"/>
<path d="M1436.2,342.2 L1440.8,342.2 L1441.3,342.9 L1440.2,343.7 L1441.3,344.4 L1440.2,345.2 L1441.3,345.9 L1440.2,346.7 L1441.3,347.4 L1440.2,348.2 L1441.3,348.9 L1440.2,349.7 L1441.3,350.4 L1440.2,351.2 L1441.3,351.9 L1440.2,352.7 L1441.3,353.4 L1440.2,354.2 L1441.3,354.9 L1440.2,355.7 L1441.3,356.4 L1440.2,357.2 L1441.3,357.9 L1440.2,358.7 L1441.3,359.4 L1440.2,360.2 L1438.5,364.5 L1436.8,360.2 L1435.7,359.4 L1436.8,358.7 L1435.7,357.9 L1436.8,357.2 L1435.7,356.4 L1436.8,355.7 L1435.7,354.9 L1436.8,354.2 L1435.7,353.4 L1436.8,352.7 L1435.7,351.9 L1436.8,351.2 L1435.7,350.4 L1436.8,349.7 L1435.7,348.9 L1436.8,348.2 L1435.7,347.4 L1436.8,346.7 L1435.7,345.9 L1436.8,345.2 L1435.7,344.4 L1436.8,343.7 L1435.7,342.9 Z" fill="#4a4a4a" stroke="#222" stroke-width="0.7"/>
<ellipse cx="1438.5" cy="332.5" rx="4.6" ry="3" fill="#fff" stroke="#1c1c1c" stroke-width="1.25"/>
<text transform="translate(1452.75 353.10) scale(0.82 1)" font-size="28.6" font-weight="normal" text-anchor="start" fill="#1a1a1a">t</text>
<path d="M 1493.4,305.7 L 1556.2,320.3 Q 1558.5,327.5 1552.2,334.3 L 1491.0,315.0 Z" fill="#fff" stroke="#1c1c1c" stroke-width="1.35" stroke-linejoin="round"/>
<path d="M 1462.0,299.7 L 1493.6,307.1 L 1491.2,314.5 L 1460.6,305.0 Z" fill="#fff" stroke="#1c1c1c" stroke-width="1.35" stroke-linejoin="round"/>
<path d="M 1437.5,317.3 C 1440.3,312.4 1439.9,307.5 1438.4,302.7 C 1439.9,288.7 1451.9,275.2 1472.2,277.6 L 1472.2,278.7 C 1462.4,279.0 1451.9,282.5 1451.2,291.3 C 1451.9,294.5 1454.0,296.9 1457.1,298.3 L 1455.9,303.6 C 1451.2,305.7 1448.0,312.7 1447.1,320.8 Z" fill="#fff" stroke="#1c1c1c" stroke-width="1.7" stroke-linejoin="round"/>
<path d="M 1457.1,298.3 L 1462.0,299.6 L 1460.6,305.0 L 1455.9,303.6 Z" fill="#fff" stroke="#1c1c1c" stroke-width="1.35" stroke-linejoin="round"/>
<path d="M 1434.3,322.0 L 1437.5,317.3 L 1447.1,320.8 L 1444.1,325.5 Z" fill="#fff" stroke="#1c1c1c" stroke-width="1.5" stroke-linejoin="round"/>
<path d="M 1444.5,308.0 Q 1444.8,296.9 1451.5,291.3" fill="none" stroke="#1c1c1c" stroke-width="1.0" stroke-linejoin="round"/>
<line x1="1439.2" y1="318.2" x2="1441.7" y2="308.5" stroke="#222" stroke-width="1.0" />
<line x1="1441.3" y1="318.9" x2="1443.6" y2="308.9" stroke="#222" stroke-width="1.0" />
<line x1="1443.4" y1="319.6" x2="1445.4" y2="309.9" stroke="#222" stroke-width="1.0" />
<line x1="1445.4" y1="320.3" x2="1446.9" y2="311.7" stroke="#222" stroke-width="1.0" />
</svg>
</body></html>
